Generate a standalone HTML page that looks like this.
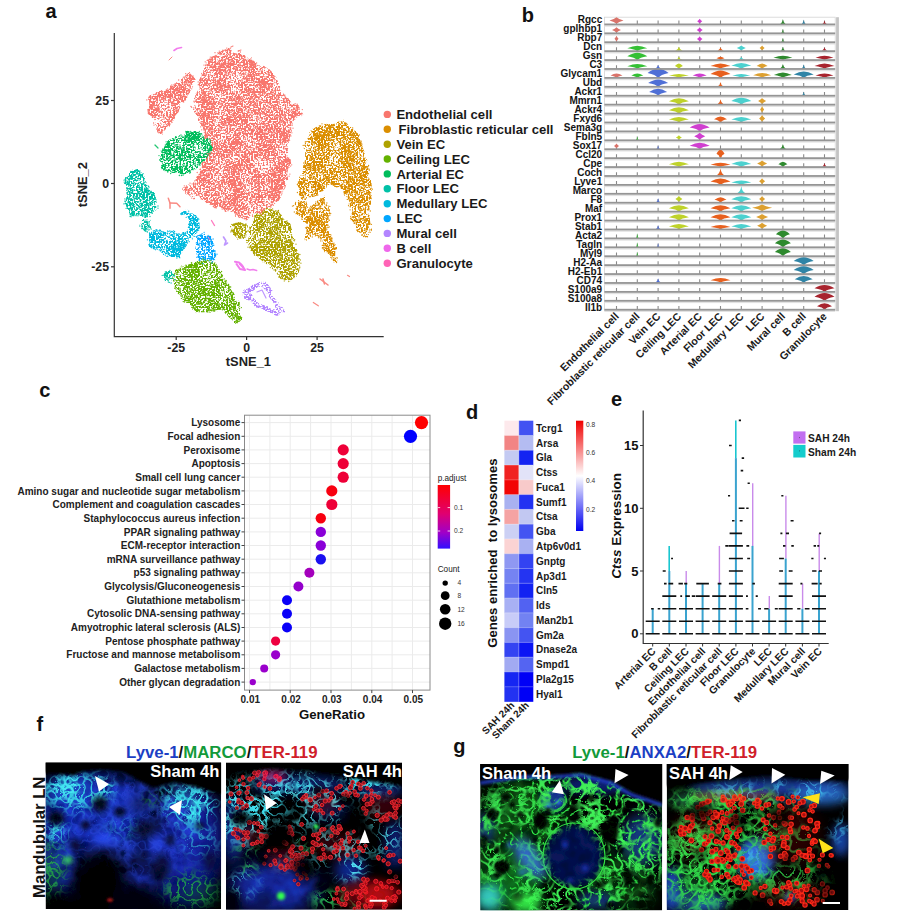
<!DOCTYPE html>
<html><head><meta charset="utf-8"><title>Figure</title>
<style>html,body{margin:0;padding:0;background:#fff;width:900px;height:919px;overflow:hidden}svg{display:block}</style>
</head><body>
<svg width="900" height="919" viewBox="0 0 900 919">
<defs><filter id="nA" x="0" y="0" width="1" height="1" color-interpolation-filters="sRGB"><feTurbulence type="turbulence" baseFrequency="0.13" numOctaves="1" seed="3" result="t"/><feColorMatrix in="t" type="matrix" values="0 0 0 0 0 0 0 0 0 0 0 0 0 0 0 -8 0 0 0 1.3" result="a"/><feComposite in="SourceGraphic" in2="a" operator="in" result="c"/><feGaussianBlur in="c" stdDeviation="0.45"/></filter>
<filter id="nB" x="0" y="0" width="1" height="1" color-interpolation-filters="sRGB"><feTurbulence type="turbulence" baseFrequency="0.11" numOctaves="1" seed="7" result="t"/><feColorMatrix in="t" type="matrix" values="0 0 0 0 0 0 0 0 0 0 0 0 0 0 0 -8 0 0 0 1.3" result="a"/><feComposite in="SourceGraphic" in2="a" operator="in" result="c"/><feGaussianBlur in="c" stdDeviation="0.45"/></filter>
<filter id="nC" x="0" y="0" width="1" height="1" color-interpolation-filters="sRGB"><feTurbulence type="turbulence" baseFrequency="0.15" numOctaves="1" seed="11" result="t"/><feColorMatrix in="t" type="matrix" values="0 0 0 0 0 0 0 0 0 0 0 0 0 0 0 -9 0 0 0 1.4" result="a"/><feComposite in="SourceGraphic" in2="a" operator="in" result="c"/><feGaussianBlur in="c" stdDeviation="0.45"/></filter>
<filter id="nD" x="0" y="0" width="1" height="1" color-interpolation-filters="sRGB"><feTurbulence type="turbulence" baseFrequency="0.1" numOctaves="1" seed="17" result="t"/><feColorMatrix in="t" type="matrix" values="0 0 0 0 0 0 0 0 0 0 0 0 0 0 0 -8 0 0 0 1.3" result="a"/><feComposite in="SourceGraphic" in2="a" operator="in" result="c"/><feGaussianBlur in="c" stdDeviation="0.45"/></filter>
<filter id="nE" x="0" y="0" width="1" height="1" color-interpolation-filters="sRGB"><feTurbulence type="turbulence" baseFrequency="0.14" numOctaves="1" seed="23" result="t"/><feColorMatrix in="t" type="matrix" values="0 0 0 0 0 0 0 0 0 0 0 0 0 0 0 -9 0 0 0 1.4" result="a"/><feComposite in="SourceGraphic" in2="a" operator="in" result="c"/><feGaussianBlur in="c" stdDeviation="0.45"/></filter>
<filter id="nF" x="0" y="0" width="1" height="1" color-interpolation-filters="sRGB"><feTurbulence type="turbulence" baseFrequency="0.12" numOctaves="1" seed="29" result="t"/><feColorMatrix in="t" type="matrix" values="0 0 0 0 0 0 0 0 0 0 0 0 0 0 0 -8 0 0 0 1.3" result="a"/><feComposite in="SourceGraphic" in2="a" operator="in" result="c"/><feGaussianBlur in="c" stdDeviation="0.45"/></filter>
<filter id="nG" x="0" y="0" width="1" height="1" color-interpolation-filters="sRGB"><feTurbulence type="turbulence" baseFrequency="0.09" numOctaves="2" seed="31" result="t"/><feColorMatrix in="t" type="matrix" values="0 0 0 0 0 0 0 0 0 0 0 0 0 0 0 -7 0 0 0 1.2" result="a"/><feComposite in="SourceGraphic" in2="a" operator="in" result="c"/><feGaussianBlur in="c" stdDeviation="0.45"/></filter>
<filter id="nH" x="0" y="0" width="1" height="1" color-interpolation-filters="sRGB"><feTurbulence type="turbulence" baseFrequency="0.16" numOctaves="1" seed="37" result="t"/><feColorMatrix in="t" type="matrix" values="0 0 0 0 0 0 0 0 0 0 0 0 0 0 0 -9 0 0 0 1.4" result="a"/><feComposite in="SourceGraphic" in2="a" operator="in" result="c"/><feGaussianBlur in="c" stdDeviation="0.45"/></filter>
<filter id="pA" x="0" y="0" width="1" height="1" color-interpolation-filters="sRGB"><feTurbulence type="turbulence" baseFrequency="0.14" numOctaves="1" seed="41" result="t"/><feColorMatrix in="t" type="matrix" values="0 0 0 0 0 0 0 0 0 0 0 0 0 0 0 -9 0 0 0 1.5" result="a"/><feTurbulence type="fractalNoise" baseFrequency="0.05" numOctaves="2" seed="43" result="lf"/><feColorMatrix in="lf" type="matrix" values="0 0 0 0 0 0 0 0 0 0 0 0 0 0 0 4 0 0 0 -1.4" result="pa"/><feComposite in="a" in2="pa" operator="arithmetic" k1="1" k2="0" k3="0" k4="0" result="am"/><feComposite in="SourceGraphic" in2="am" operator="in" result="c"/><feGaussianBlur in="c" stdDeviation="0.45"/></filter>
<filter id="pB" x="0" y="0" width="1" height="1" color-interpolation-filters="sRGB"><feTurbulence type="turbulence" baseFrequency="0.12" numOctaves="1" seed="47" result="t"/><feColorMatrix in="t" type="matrix" values="0 0 0 0 0 0 0 0 0 0 0 0 0 0 0 -9 0 0 0 1.5" result="a"/><feTurbulence type="fractalNoise" baseFrequency="0.045" numOctaves="2" seed="49" result="lf"/><feColorMatrix in="lf" type="matrix" values="0 0 0 0 0 0 0 0 0 0 0 0 0 0 0 4 0 0 0 -1.4" result="pa"/><feComposite in="a" in2="pa" operator="arithmetic" k1="1" k2="0" k3="0" k4="0" result="am"/><feComposite in="SourceGraphic" in2="am" operator="in" result="c"/><feGaussianBlur in="c" stdDeviation="0.45"/></filter>
<filter id="pC" x="0" y="0" width="1" height="1" color-interpolation-filters="sRGB"><feTurbulence type="turbulence" baseFrequency="0.15" numOctaves="1" seed="53" result="t"/><feColorMatrix in="t" type="matrix" values="0 0 0 0 0 0 0 0 0 0 0 0 0 0 0 -9 0 0 0 1.5" result="a"/><feTurbulence type="fractalNoise" baseFrequency="0.05" numOctaves="2" seed="55" result="lf"/><feColorMatrix in="lf" type="matrix" values="0 0 0 0 0 0 0 0 0 0 0 0 0 0 0 4.5 0 0 0 -1.6" result="pa"/><feComposite in="a" in2="pa" operator="arithmetic" k1="1" k2="0" k3="0" k4="0" result="am"/><feComposite in="SourceGraphic" in2="am" operator="in" result="c"/><feGaussianBlur in="c" stdDeviation="0.45"/></filter>
<filter id="pD" x="0" y="0" width="1" height="1" color-interpolation-filters="sRGB"><feTurbulence type="turbulence" baseFrequency="0.1" numOctaves="1" seed="59" result="t"/><feColorMatrix in="t" type="matrix" values="0 0 0 0 0 0 0 0 0 0 0 0 0 0 0 -8 0 0 0 1.4" result="a"/><feTurbulence type="fractalNoise" baseFrequency="0.04" numOctaves="2" seed="61" result="lf"/><feColorMatrix in="lf" type="matrix" values="0 0 0 0 0 0 0 0 0 0 0 0 0 0 0 4 0 0 0 -1.3" result="pa"/><feComposite in="a" in2="pa" operator="arithmetic" k1="1" k2="0" k3="0" k4="0" result="am"/><feComposite in="SourceGraphic" in2="am" operator="in" result="c"/><feGaussianBlur in="c" stdDeviation="0.45"/></filter>
<filter id="mot" x="0" y="0" width="1" height="1" color-interpolation-filters="sRGB"><feTurbulence type="fractalNoise" baseFrequency="0.08" numOctaves="2" seed="5" result="t"/><feColorMatrix in="t" type="matrix" values="0 0 0 0 0 0 0 0 0 0 0 0 0 0 0 2.2 0 0 0 -0.6" result="a"/><feComposite in="SourceGraphic" in2="a" operator="in"/></filter>
<filter id="soft" x="0" y="0" width="1" height="1"><feGaussianBlur stdDeviation="0.5"/></filter>
<filter id="g0_6" x="-60%" y="-60%" width="220%" height="220%"><feGaussianBlur stdDeviation="0.6"/></filter>
<filter id="g1" x="-60%" y="-60%" width="220%" height="220%"><feGaussianBlur stdDeviation="1"/></filter>
<filter id="g1_5" x="-60%" y="-60%" width="220%" height="220%"><feGaussianBlur stdDeviation="1.5"/></filter>
<filter id="g2" x="-60%" y="-60%" width="220%" height="220%"><feGaussianBlur stdDeviation="2"/></filter>
<filter id="g3" x="-60%" y="-60%" width="220%" height="220%"><feGaussianBlur stdDeviation="3"/></filter>
<filter id="g4" x="-60%" y="-60%" width="220%" height="220%"><feGaussianBlur stdDeviation="4"/></filter>
<filter id="g5" x="-60%" y="-60%" width="220%" height="220%"><feGaussianBlur stdDeviation="5"/></filter>
<filter id="g6" x="-60%" y="-60%" width="220%" height="220%"><feGaussianBlur stdDeviation="6"/></filter>
<filter id="g7" x="-60%" y="-60%" width="220%" height="220%"><feGaussianBlur stdDeviation="7"/></filter>
<filter id="g8" x="-60%" y="-60%" width="220%" height="220%"><feGaussianBlur stdDeviation="8"/></filter>
<filter id="g10" x="-60%" y="-60%" width="220%" height="220%"><feGaussianBlur stdDeviation="10"/></filter>
<filter id="g12" x="-60%" y="-60%" width="220%" height="220%"><feGaussianBlur stdDeviation="12"/></filter>
<filter id="g14" x="-60%" y="-60%" width="220%" height="220%"><feGaussianBlur stdDeviation="14"/></filter>
<filter id="speck" x="110" y="30" width="280" height="300" filterUnits="userSpaceOnUse" color-interpolation-filters="sRGB">
<feTurbulence type="fractalNoise" baseFrequency="0.12" numOctaves="2" seed="8" result="dn"/>
<feDisplacementMap in="SourceGraphic" in2="dn" scale="7" xChannelSelector="R" yChannelSelector="G" result="disp"/>
<feTurbulence type="fractalNoise" baseFrequency="0.6" numOctaves="1" seed="4" result="t"/>
<feColorMatrix in="t" type="matrix" values="0 0 0 0 0 0 0 0 0 0 0 0 0 0 0 1 0 0 0 0" result="a1"/>
<feTurbulence type="fractalNoise" baseFrequency="0.07" numOctaves="2" seed="9" result="t2"/>
<feColorMatrix in="t2" type="matrix" values="0 0 0 0 0 0 0 0 0 0 0 0 0 0 0 1 0 0 0 0" result="a2"/>
<feComposite in="a1" in2="a2" operator="arithmetic" k1="0" k2="1" k3="0.3" k4="-0.15" result="a3"/>
<feComponentTransfer in="a3" result="a"><feFuncA type="linear" slope="8" intercept="-3.15"/></feComponentTransfer>
<feComposite in="disp" in2="a" operator="in" result="sp"/>
<feGaussianBlur in="sp" stdDeviation="0.35"/>
</filter></defs>
<rect width="900" height="919" fill="#fff"/>
<g filter="url(#speck)">
<path d="M210.3,58.6 218.6,52.4 226.9,50.3 237.2,52.4 247.5,58.6 255.8,64.8 266.2,69.0 274.4,77.2 278.6,87.6 284.8,100.0 297.2,106.2 301.3,112.4 293.0,120.7 288.9,133.0 284.8,147.5 288.9,164.1 284.8,184.8 276.5,199.3 264.1,211.7 253.3,213.3 245.0,218.3 238.3,215.0 229.0,209.6 214.5,205.5 202.0,197.2 189.6,195.1 183.4,188.9 195.8,182.7 202.0,168.2 210.3,151.7 206.2,137.2 202.0,122.7 193.8,106.2 197.9,91.7 202.0,77.2 208.3,60.7Z" fill="#F8766D" stroke="#F8766D" stroke-width="2.5" stroke-linejoin="round"/>
<path d="M149.2,100.0 153.3,95.0 165.0,91.7 176.7,85.0 188.3,73.3 193.3,78.3 188.3,93.3 180.0,103.3 173.3,116.7 166.7,126.7 160.0,133.3 156.7,125.0 155.0,118.3 150.0,113.3Z" fill="#F8766D" stroke="#F8766D" stroke-width="2.5" stroke-linejoin="round"/>
<path d="M160.0,156.7 165.0,145.0 176.7,138.3 186.7,133.3 198.3,133.3 208.3,140.0 210.0,150.0 203.3,161.7 193.3,168.3 183.3,173.3 171.7,171.7 163.3,166.7Z" fill="#00BD5C" stroke="#00BD5C" stroke-width="2.5" stroke-linejoin="round"/>
<path d="M326.2,124.4 343.6,122.7 357.6,134.9 364.5,159.2 369.7,187.1 368.0,211.4 369.7,228.8 364.5,235.8 357.6,228.8 352.0,215.0 350.6,201.0 343.6,187.1 329.7,183.6 315.8,194.0 301.9,197.5 296.7,187.1 303.0,173.0 305.4,160.0 305.4,145.3 312.3,131.4Z" fill="#DB8E00" stroke="#DB8E00" stroke-width="2.5" stroke-linejoin="round"/>
<path d="M295.0,205.0 303.3,201.7 305.0,208.0 310.0,209.0 316.7,203.3 323.3,199.0 328.3,208.0 326.7,223.3 330.0,238.3 335.0,250.0 335.0,260.0 330.0,253.3 325.0,250.0 321.7,236.7 313.3,233.3 306.7,238.3 306.7,230.0 310.0,223.3 305.0,218.3 297.0,213.0Z" fill="#DB8E00" stroke="#DB8E00" stroke-width="2.5" stroke-linejoin="round"/>
<path d="M248.3,240.0 250.0,230.0 256.7,216.7 266.7,210.0 278.3,213.3 288.3,225.0 293.3,243.3 298.3,256.7 298.3,270.0 290.0,280.0 283.3,278.3 276.7,270.0 268.3,263.3 260.0,256.7 251.7,250.0Z" fill="#AEA200" stroke="#AEA200" stroke-width="2.5" stroke-linejoin="round"/>
<path d="M233.3,225.0 240.0,223.3 246.7,226.7 245.0,235.0 238.3,236.7 233.3,231.7Z" fill="#AEA200" stroke="#AEA200" stroke-width="2.5" stroke-linejoin="round"/>
<path d="M126.7,180.0 133.3,171.7 138.3,170.0 143.3,180.0 148.3,190.0 155.0,200.0 155.0,210.0 148.3,215.0 138.3,215.0 130.0,215.0 126.7,203.3 128.3,191.7Z" fill="#00C1A7" stroke="#00C1A7" stroke-width="2.5" stroke-linejoin="round"/>
<path d="M141.7,220.0 148.3,221.7 150.0,228.3 145.0,230.0 141.7,225.0Z" fill="#00C1A7" stroke="#00C1A7" stroke-width="2.5" stroke-linejoin="round"/>
<path d="M165.0,274.0 170.0,273.3 173.3,278.0 170.0,281.7 166.0,280.0Z" fill="#00C1A7" stroke="#00C1A7" stroke-width="2.5" stroke-linejoin="round"/>
<path d="M150.0,233.3 160.0,231.7 173.3,233.3 181.7,236.7 183.3,233.3 188.3,230.0 192.0,223.3 189.0,217.0 183.3,213.3 188.3,211.7 195.0,216.7 198.3,225.0 195.0,233.3 188.0,240.0 183.0,248.0 178.0,256.0 170.0,255.0 160.0,250.0 151.7,245.0 149.0,238.3Z" fill="#00BADE" stroke="#00BADE" stroke-width="2.5" stroke-linejoin="round"/>
<path d="M198.3,236.7 205.0,235.0 210.0,238.3 211.7,246.7 215.0,256.7 210.0,261.7 200.0,260.0 196.7,253.3 198.3,245.0Z" fill="#00A6FF" stroke="#00A6FF" stroke-width="2.5" stroke-linejoin="round"/>
<path d="M173.3,276.7 181.7,268.3 193.3,263.3 203.3,261.7 213.3,263.3 220.0,273.3 226.7,283.3 231.7,293.3 236.7,303.3 240.0,311.7 239.0,318.0 236.0,322.0 232.0,318.0 230.0,316.7 226.7,310.0 220.0,308.3 210.0,310.0 198.3,310.0 190.0,305.0 183.3,298.3 178.3,290.0 175.0,283.3Z" fill="#64B200" stroke="#64B200" stroke-width="2.5" stroke-linejoin="round"/>
<path d="M246.7,291.7 253.3,286.7 263.3,283.3 268.3,290.0 273.3,300.0 281.7,310.0 276.7,313.3 265.0,308.3 256.7,305.0 250.0,298.3 246.7,291.7" fill="none" stroke="#B385FF" stroke-width="5" stroke-linecap="round" stroke-linejoin="round"/>
</g>
<g opacity="0.85">
<path d="M174.0,50.5 177.0,48.5 181.5,47.5" fill="none" stroke="#EF67EB" stroke-width="1.65" stroke-linecap="round" stroke-linejoin="round"/>
<path d="M257.0,292.0 262.0,290.0 266.0,298.0" fill="none" stroke="#B385FF" stroke-width="1.20" stroke-linecap="round" stroke-linejoin="round"/>
<path d="M223.5,237.0 226.0,241.0 224.5,245.0 227.5,243.0" fill="none" stroke="#B385FF" stroke-width="1.65" stroke-linecap="round" stroke-linejoin="round"/>
<path d="M235.0,261.7 239.0,262.5 241.7,265.0 245.0,270.0 240.0,269.0 236.5,264.0" fill="none" stroke="#EF67EB" stroke-width="2.10" stroke-linecap="round" stroke-linejoin="round"/>
<path d="M247.0,269.0 250.0,270.0 253.0,269.5 256.7,270.5" fill="none" stroke="#EF67EB" stroke-width="1.35" stroke-linecap="round" stroke-linejoin="round"/>
<path d="M240.0,264.0 243.0,267.0" fill="none" stroke="#EF67EB" stroke-width="2.25" stroke-linecap="round" stroke-linejoin="round"/>
<path d="M211.5,220.5 214.5,225.5" fill="none" stroke="#FF63B6" stroke-width="1.35" stroke-linecap="round" stroke-linejoin="round"/>
<path d="M168.3,198.3 170.0,203.0 170.0,208.3" fill="none" stroke="#F8766D" stroke-width="1.50" stroke-linecap="round" stroke-linejoin="round"/>
<path d="M170.0,203.0 176.7,203.3 180.0,206.7" fill="none" stroke="#F8766D" stroke-width="1.50" stroke-linecap="round" stroke-linejoin="round"/>
<path d="M320.0,279.0 324.0,282.0 328.0,285.0" fill="none" stroke="#F8766D" stroke-width="1.50" stroke-linecap="round" stroke-linejoin="round"/>
<path d="M323.0,279.0 324.5,284.0" fill="none" stroke="#F8766D" stroke-width="1.50" stroke-linecap="round" stroke-linejoin="round"/>
<path d="M313.3,302.5 318.3,305.8" fill="none" stroke="#F8766D" stroke-width="1.20" stroke-linecap="round" stroke-linejoin="round"/>
<path d="M347.5,275.3 349.5,276.5" fill="none" stroke="#F8766D" stroke-width="1.20" stroke-linecap="round" stroke-linejoin="round"/>
<path d="M231.0,47.0 233.0,46.0" fill="none" stroke="#F8766D" stroke-width="1.12" stroke-linecap="round" stroke-linejoin="round"/>
<path d="M238.0,51.0 241.0,50.0" fill="none" stroke="#F8766D" stroke-width="1.12" stroke-linecap="round" stroke-linejoin="round"/>
<path d="M169.0,60.0 172.0,57.0" fill="none" stroke="#F8766D" stroke-width="0.98" stroke-linecap="round" stroke-linejoin="round"/>
<path d="M208.0,237.0 210.0,240.0" fill="none" stroke="#FF63B6" stroke-width="1.05" stroke-linecap="round" stroke-linejoin="round"/>
<path d="M155.0,145.0 158.0,148.0" fill="none" stroke="#00BD5C" stroke-width="1.20" stroke-linecap="round" stroke-linejoin="round"/>
<path d="M236.0,315.0 238.0,318.0" fill="none" stroke="#64B200" stroke-width="2.25" stroke-linecap="round" stroke-linejoin="round"/>
</g>
<path d="M214.6 207.6h0M279.8 197.6h0M190.9 106.3h0M222.2 209.0h0M277.9 199.0h0M288.9 167.4h0M256.6 63.0h0M252.5 215.0h0M301.8 113.1h0M187.7 193.5h0M260.7 213.9h0M269.1 70.0h0M216.2 207.9h0M289.8 130.9h0M291.4 131.0h0M225.9 211.4h0M208.4 60.1h0M264.0 211.8h0M270.8 207.0h0M194.0 101.2h0M210.3 57.1h0M261.9 214.3h0M194.3 102.1h0M226.8 48.1h0M219.3 51.1h0M205.7 137.2h0M228.0 210.7h0M244.5 55.7h0M243.3 55.6h0M274.6 203.3h0M200.7 126.8h0M252.6 216.3h0M222.9 50.1h0M293.0 128.2h0M199.0 84.4h0M205.2 61.8h0M285.7 148.8h0M248.8 217.5h0M295.1 103.6h0M199.9 169.3h0M194.8 180.8h0M230.9 50.9h0M254.2 62.9h0M264.7 68.0h0M191.5 107.2h0M191.8 198.1h0M285.9 146.6h0M201.5 124.8h0M201.7 129.8h0M296.7 117.1h0M183.9 190.3h0M215.0 52.7h0M292.1 124.1h0M208.4 154.4h0M190.0 183.1h0M278.8 197.7h0M289.4 102.1h0M230.4 48.1h0M202.2 124.7h0M196.0 180.0h0M297.1 104.1h0M290.6 166.1h0M207.1 153.6h0M198.2 81.9h0M193.7 198.7h0M225.2 211.0h0M290.8 128.0h0M197.5 177.4h0M289.9 174.1h0M278.8 87.3h0M238.4 215.7h0M287.6 157.3h0M291.9 132.8h0M287.2 150.0h0M204.3 132.6h0M282.0 193.1h0M230.4 50.6h0M288.8 158.1h0M240.4 52.0h0M281.6 194.8h0M238.7 51.0h0M290.9 135.9h0M289.6 140.2h0M197.2 172.5h0M204.4 138.2h0M273.4 205.2h0M289.9 101.9h0M279.7 195.6h0M223.5 51.0h0M202.1 123.2h0M289.5 135.1h0M203.7 128.5h0M247.9 217.5h0M198.2 84.8h0M204.0 65.1h0M205.5 201.6h0M184.3 185.8h0M294.7 119.2h0M280.6 192.7h0M208.9 153.2h0M194.4 198.5h0M192.1 183.9h0M302.3 109.6h0M235.5 214.1h0M194.6 98.5h0M289.1 176.2h0M205.5 136.1h0M291.7 164.8h0M178.7 80.0h0M177.8 110.1h0M146.8 99.9h0M160.7 133.2h0M150.6 95.8h0M176.9 83.5h0M173.1 85.1h0M157.6 128.2h0M148.4 109.4h0M182.3 101.6h0M154.0 125.1h0M174.5 84.1h0M185.7 73.7h0M149.5 113.0h0M175.1 114.7h0M188.8 92.8h0M176.6 111.7h0M157.9 132.1h0M152.4 116.3h0M183.4 77.2h0M193.8 79.5h0M148.6 112.8h0M158.3 129.3h0M157.7 131.5h0M156.2 93.6h0M193.0 76.0h0M192.5 86.8h0M182.6 78.8h0M156.5 92.7h0M164.7 129.6h0M162.6 91.3h0M153.6 123.0h0M171.1 121.3h0M148.6 97.8h0M148.8 113.9h0M183.7 102.1h0M167.5 88.8h0M191.7 88.8h0M152.3 117.1h0M183.4 101.5h0M154.9 119.5h0M161.4 90.6h0" stroke="#F8766D" stroke-width="1.3" stroke-linecap="round"/>
<path d="M189.7 173.0h0M181.0 135.0h0M197.1 132.5h0M208.1 154.6h0M165.0 169.6h0M161.8 165.7h0M185.8 131.3h0M187.6 131.4h0M210.0 153.6h0M186.7 131.7h0M207.9 155.2h0M172.5 138.7h0M159.0 155.6h0M189.9 170.9h0M201.1 133.7h0M199.3 131.3h0M190.7 131.3h0M179.7 136.0h0M201.7 134.0h0M190.9 132.2h0M193.0 169.3h0M181.4 175.5h0M175.2 138.8h0M170.7 173.5h0M200.0 165.0h0M168.0 171.2h0M168.7 141.4h0M159.7 160.0h0M167.8 172.1h0M209.2 152.1h0M183.0 175.3h0M166.1 141.8h0M179.3 175.5h0M190.5 172.6h0M162.2 166.4h0M199.0 164.9h0" stroke="#00BD5C" stroke-width="1.3" stroke-linecap="round"/>
<path d="M350.1 206.8h0M320.6 190.6h0M369.4 193.6h0M344.1 191.6h0M321.9 190.9h0M352.7 220.3h0M369.3 170.2h0M368.1 166.3h0M371.3 198.2h0M297.4 192.5h0M368.6 165.4h0M341.0 187.8h0M322.0 123.8h0M349.6 201.2h0M344.5 193.2h0M303.1 145.3h0M345.9 123.1h0M367.4 167.9h0M317.1 193.6h0M359.4 134.9h0M345.5 193.0h0M361.6 145.5h0M371.5 224.3h0M317.8 195.0h0M369.8 223.6h0M346.7 123.8h0M368.8 209.7h0M305.3 141.9h0M365.4 236.5h0M352.7 127.9h0M363.7 236.5h0M312.3 196.0h0M371.1 195.7h0M370.3 211.0h0M347.3 199.4h0M354.9 222.2h0M308.1 138.4h0M332.1 184.2h0M357.8 231.6h0M305.4 198.9h0M350.1 209.8h0M369.4 223.6h0M368.3 209.2h0M365.8 236.7h0M304.3 145.3h0M371.5 229.1h0M309.2 196.8h0M368.9 202.6h0M348.5 205.7h0M303.8 163.0h0M370.7 192.7h0M369.0 169.2h0M337.6 186.7h0M370.1 232.3h0M313.6 196.2h0M368.5 173.7h0M350.2 200.5h0M362.0 144.1h0M360.9 140.9h0M306.3 141.6h0M330.8 255.1h0M331.8 239.3h0M320.8 240.9h0M329.2 226.9h0M334.0 243.1h0M326.9 203.0h0M331.8 258.8h0M327.7 219.1h0M307.0 206.8h0M329.8 206.4h0M336.0 247.8h0M333.6 259.3h0M306.2 202.2h0M322.3 248.0h0M305.1 206.7h0M335.0 244.7h0M301.8 219.1h0M318.5 237.2h0M305.5 227.8h0M337.3 258.0h0M330.7 213.5h0M313.9 234.4h0M323.8 247.5h0M336.9 257.7h0M310.8 208.2h0M293.6 205.7h0M321.0 239.0h0M298.6 200.7h0M329.3 220.1h0M332.1 238.2h0M330.9 257.4h0M327.9 221.6h0M317.9 200.8h0M321.3 238.6h0M335.3 248.0h0M330.7 234.7h0M318.0 235.7h0M323.3 248.9h0M309.4 238.3h0M330.1 236.9h0M316.9 235.4h0M303.9 202.0h0M312.3 236.9h0M295.6 202.3h0M300.4 202.0h0M304.9 218.6h0M301.9 202.2h0M309.4 238.3h0M333.5 260.5h0M292.4 206.1h0M329.3 220.4h0M294.3 212.0h0M327.9 217.6h0M329.8 215.2h0M318.8 235.8h0M328.0 227.5h0M331.4 240.9h0M315.5 234.2h0M305.1 206.9h0M320.5 200.6h0" stroke="#DB8E00" stroke-width="1.3" stroke-linecap="round"/>
<path d="M260.6 214.0h0M298.3 255.6h0M246.5 240.4h0M253.9 221.6h0M272.5 268.3h0M280.0 276.9h0M278.5 212.4h0M298.6 262.1h0M299.3 262.0h0M296.0 244.2h0M255.2 216.0h0M247.0 242.5h0M298.4 254.3h0M262.9 211.3h0M286.2 279.4h0M278.2 211.8h0M299.9 267.1h0M248.0 247.2h0M278.5 210.5h0M257.9 255.1h0M274.0 269.9h0M298.4 256.9h0M299.9 254.5h0M286.9 223.3h0M290.1 224.3h0M288.8 281.5h0M300.9 263.2h0M249.9 227.2h0M275.9 270.2h0M270.3 267.6h0M294.3 240.8h0M262.6 212.6h0M277.1 211.2h0M271.8 266.2h0M294.7 239.7h0M250.0 227.9h0M275.4 270.3h0M255.1 253.3h0M272.6 208.9h0M284.3 280.9h0M299.6 267.9h0M250.0 247.5h0M257.2 213.7h0M298.6 254.6h0M287.0 220.9h0M245.9 223.9h0M240.9 238.0h0M240.5 236.8h0M239.7 237.6h0M232.1 231.4h0M243.1 235.7h0M231.3 230.4h0M241.4 223.3h0M246.2 225.1h0M232.0 229.2h0M230.6 226.7h0M247.9 231.0h0M233.1 230.5h0M246.5 231.5h0M245.9 234.9h0M237.7 239.1h0M230.8 231.9h0M243.5 224.8h0" stroke="#AEA200" stroke-width="1.3" stroke-linecap="round"/>
<path d="M124.1 180.2h0M148.5 186.7h0M127.1 193.5h0M134.9 215.0h0M155.8 199.5h0M130.1 216.5h0M142.4 174.7h0M126.1 208.3h0M132.5 215.1h0M149.1 187.1h0M124.9 198.9h0M125.6 201.8h0M142.7 176.9h0M124.8 201.2h0M127.7 192.1h0M139.5 171.9h0M145.4 215.0h0M158.0 208.2h0M151.9 195.1h0M158.0 206.0h0M143.1 173.7h0M144.8 215.0h0M125.5 203.4h0M153.5 195.0h0M142.8 216.4h0M124.6 183.3h0M128.5 176.4h0M138.0 215.8h0M150.0 216.5h0M131.1 216.0h0M136.1 215.7h0M139.9 170.9h0M124.2 182.1h0M156.4 202.1h0M152.2 213.4h0M127.0 188.5h0M145.3 231.3h0M141.9 226.5h0M141.8 228.5h0M151.1 228.9h0M148.9 229.9h0M142.9 228.6h0M149.8 227.1h0M149.3 221.7h0M147.0 229.5h0M139.8 226.0h0M145.7 230.5h0M147.0 231.5h0M147.0 219.8h0M147.3 232.0h0M145.1 220.2h0M168.3 281.9h0M171.1 283.0h0M170.0 272.4h0M162.2 275.4h0M174.7 276.1h0M165.5 272.0h0M166.4 271.9h0M169.3 282.4h0M169.9 270.4h0M172.7 276.8h0M164.7 276.9h0M173.9 275.5h0M173.6 274.7h0M163.7 275.2h0M174.6 279.7h0" stroke="#00C1A7" stroke-width="1.3" stroke-linecap="round"/>
<path d="M153.3 230.8h0M197.5 228.1h0M163.2 231.8h0M157.8 231.2h0M167.7 230.9h0M162.5 251.4h0M174.5 233.1h0M188.6 224.3h0M194.8 236.4h0M161.8 231.5h0M197.2 230.6h0M189.4 219.0h0M182.2 213.7h0M189.2 241.7h0M190.2 222.0h0M176.9 258.0h0M191.5 222.9h0M156.8 248.8h0M198.8 219.2h0M159.6 230.9h0M170.7 255.4h0M183.4 248.6h0M196.8 232.0h0M153.8 248.5h0M159.3 249.8h0M167.0 256.4h0M159.8 230.0h0M181.6 250.4h0M174.6 231.5h0M192.4 238.8h0M167.8 256.1h0M185.1 245.0h0M160.5 230.5h0M156.1 229.7h0M156.1 247.8h0M156.9 229.9h0M167.9 231.5h0M147.4 239.8h0M198.6 230.2h0M171.7 255.7h0M199.1 223.2h0M181.8 213.0h0M190.3 223.6h0M170.0 231.5h0M197.6 218.7h0M186.6 212.1h0M154.5 230.6h0M184.6 245.7h0M188.7 211.2h0M189.4 223.2h0M173.4 230.8h0M156.1 230.5h0M180.9 234.7h0M187.3 242.9h0M165.3 255.1h0M188.5 217.6h0M177.5 255.9h0M154.6 248.1h0M186.2 217.3h0M151.1 246.5h0" stroke="#00BADE" stroke-width="1.3" stroke-linecap="round"/>
<path d="M202.9 263.5h0M213.1 239.0h0M211.4 263.1h0M214.9 250.7h0M196.7 242.7h0M213.5 251.5h0M204.1 232.3h0M196.9 257.4h0M212.3 246.2h0M204.4 234.4h0M196.3 242.9h0M212.4 261.9h0M217.0 254.2h0M200.0 260.3h0M215.1 251.2h0M213.1 245.4h0M199.1 259.8h0M200.3 234.8h0M197.1 237.1h0M214.6 257.5h0M214.5 250.8h0M212.8 243.4h0M208.1 235.5h0M211.5 239.9h0M213.8 245.2h0M202.1 233.7h0M197.9 243.2h0" stroke="#00A6FF" stroke-width="1.3" stroke-linecap="round"/>
<path d="M179.1 292.7h0M213.2 311.0h0M213.9 309.8h0M239.6 306.1h0M198.0 262.5h0M181.7 295.9h0M231.5 292.5h0M186.3 265.5h0M210.0 312.3h0M182.0 266.8h0M207.7 260.5h0M183.5 299.3h0M219.1 269.6h0M191.4 262.7h0M214.7 311.0h0M233.3 294.2h0M173.3 278.6h0M174.6 288.2h0M206.2 261.0h0M180.7 295.8h0M216.2 267.1h0M176.6 291.3h0M228.8 287.2h0M217.2 266.1h0M210.8 260.7h0M204.6 259.9h0M175.9 288.9h0M172.7 278.1h0M237.9 320.6h0M197.3 311.1h0M224.3 278.8h0M212.1 309.8h0M239.6 308.4h0M202.7 259.0h0M219.1 309.3h0M214.4 311.0h0M241.4 307.6h0M230.0 286.9h0M174.7 273.7h0M233.5 293.5h0M230.7 287.0h0M225.9 280.4h0M186.9 302.4h0M221.6 271.5h0M178.4 293.5h0M181.4 298.4h0M176.2 273.2h0M239.2 302.5h0M175.5 285.9h0M210.7 262.9h0M232.9 292.6h0M239.9 320.6h0M195.1 308.4h0M174.4 274.2h0M185.9 265.2h0M241.6 317.4h0M191.8 307.4h0M182.1 296.4h0M226.3 280.7h0M194.3 307.8h0M230.3 289.9h0M178.2 271.5h0M184.7 301.8h0M233.5 293.9h0M239.0 304.0h0M233.4 293.1h0" stroke="#64B200" stroke-width="1.3" stroke-linecap="round"/>
<g stroke="#333" stroke-width="1.2" fill="none">
<path d="M114.3 33V336.7H383.7"/>
<path d="M111 100.5H114.3"/>
<path d="M111 183.5H114.3"/>
<path d="M111 266.8H114.3"/>
<path d="M176.2 336.7V340"/>
<path d="M246.6 336.7V340"/>
<path d="M317.1 336.7V340"/>
</g>
<g font-family="Liberation Sans, Arial, sans-serif" font-weight="bold" font-size="12.3" fill="#222" text-anchor="end">
<text x="109" y="104.9">25</text>
<text x="109" y="187.9">0</text>
<text x="109" y="271.2">-25</text>
</g>
<g font-family="Liberation Sans, Arial, sans-serif" font-weight="bold" font-size="12.3" fill="#222" text-anchor="middle">
<text x="176.2" y="351.8">-25</text>
<text x="246.6" y="351.8">0</text>
<text x="317.1" y="351.8">25</text>
</g>
<text font-family="Liberation Sans, Arial, sans-serif" font-weight="bold" font-size="12.9" fill="#222" text-anchor="middle" x="248.4" y="366.2">tSNE_1</text>
<text font-family="Liberation Sans, Arial, sans-serif" font-weight="bold" font-size="12.9" fill="#222" text-anchor="middle" transform="translate(87.3 184.7) rotate(-90)">tSNE_2</text>
<circle cx="387.3" cy="114.4" r="3.7" fill="#F8766D"/>
<text font-family="Liberation Sans, Arial, sans-serif" font-weight="bold" font-size="13.1" fill="#1a1a1a" x="396.4" y="119.0">Endothelial cell</text>
<circle cx="387.3" cy="129.3" r="3.7" fill="#DB8E00"/>
<text font-family="Liberation Sans, Arial, sans-serif" font-weight="bold" font-size="13.1" fill="#1a1a1a" x="398.5" y="133.9">Fibroblastic reticular cell</text>
<circle cx="387.3" cy="144.2" r="3.7" fill="#AEA200"/>
<text font-family="Liberation Sans, Arial, sans-serif" font-weight="bold" font-size="13.1" fill="#1a1a1a" x="396.4" y="148.8">Vein EC</text>
<circle cx="387.3" cy="159.0" r="3.7" fill="#64B200"/>
<text font-family="Liberation Sans, Arial, sans-serif" font-weight="bold" font-size="13.1" fill="#1a1a1a" x="396.4" y="163.6">Ceiling LEC</text>
<circle cx="387.3" cy="173.9" r="3.7" fill="#00BD5C"/>
<text font-family="Liberation Sans, Arial, sans-serif" font-weight="bold" font-size="13.1" fill="#1a1a1a" x="396.4" y="178.5">Arterial EC</text>
<circle cx="387.3" cy="188.8" r="3.7" fill="#00C1A7"/>
<text font-family="Liberation Sans, Arial, sans-serif" font-weight="bold" font-size="13.1" fill="#1a1a1a" x="396.4" y="193.4">Floor LEC</text>
<circle cx="387.3" cy="203.7" r="3.7" fill="#00BADE"/>
<text font-family="Liberation Sans, Arial, sans-serif" font-weight="bold" font-size="13.1" fill="#1a1a1a" x="396.4" y="208.3">Medullary LEC</text>
<circle cx="387.3" cy="218.6" r="3.7" fill="#00A6FF"/>
<text font-family="Liberation Sans, Arial, sans-serif" font-weight="bold" font-size="13.1" fill="#1a1a1a" x="396.4" y="223.2">LEC</text>
<circle cx="387.3" cy="233.4" r="3.7" fill="#B385FF"/>
<text font-family="Liberation Sans, Arial, sans-serif" font-weight="bold" font-size="13.1" fill="#1a1a1a" x="396.4" y="238.0">Mural cell</text>
<circle cx="387.3" cy="248.3" r="3.7" fill="#EF67EB"/>
<text font-family="Liberation Sans, Arial, sans-serif" font-weight="bold" font-size="13.1" fill="#1a1a1a" x="396.4" y="252.9">B cell</text>
<circle cx="387.3" cy="263.2" r="3.7" fill="#FF63B6"/>
<text font-family="Liberation Sans, Arial, sans-serif" font-weight="bold" font-size="13.1" fill="#1a1a1a" x="396.4" y="267.8">Granulocyte</text>
<text font-family="Liberation Sans, Arial, sans-serif" font-weight="bold" font-size="20" fill="#111" x="45.4" y="18.3">a</text>
<rect x="604.4" y="17.2" width="230.80000000000007" height="293.512" fill="#fff" stroke="#d4d4d4" stroke-width="0.8"/>
<rect x="836.1" y="17.2" width="2.8" height="294.012" fill="#c4c4c4"/>
<rect x="604.4" y="25.20" width="230.80000000000007" height="1.5" fill="#e2e2e2"/>
<rect x="604.4" y="34.12" width="230.80000000000007" height="1.5" fill="#e2e2e2"/>
<rect x="604.4" y="43.03" width="230.80000000000007" height="1.5" fill="#e2e2e2"/>
<rect x="604.4" y="51.95" width="230.80000000000007" height="1.5" fill="#e2e2e2"/>
<rect x="604.4" y="60.86" width="230.80000000000007" height="1.5" fill="#e2e2e2"/>
<rect x="604.4" y="69.78" width="230.80000000000007" height="1.5" fill="#e2e2e2"/>
<rect x="604.4" y="78.70" width="230.80000000000007" height="1.5" fill="#e2e2e2"/>
<rect x="604.4" y="87.61" width="230.80000000000007" height="1.5" fill="#e2e2e2"/>
<rect x="604.4" y="96.53" width="230.80000000000007" height="1.5" fill="#e2e2e2"/>
<rect x="604.4" y="105.44" width="230.80000000000007" height="1.5" fill="#e2e2e2"/>
<rect x="604.4" y="114.36" width="230.80000000000007" height="1.5" fill="#e2e2e2"/>
<rect x="604.4" y="123.28" width="230.80000000000007" height="1.5" fill="#e2e2e2"/>
<rect x="604.4" y="132.19" width="230.80000000000007" height="1.5" fill="#e2e2e2"/>
<rect x="604.4" y="141.11" width="230.80000000000007" height="1.5" fill="#e2e2e2"/>
<rect x="604.4" y="150.02" width="230.80000000000007" height="1.5" fill="#e2e2e2"/>
<rect x="604.4" y="158.94" width="230.80000000000007" height="1.5" fill="#e2e2e2"/>
<rect x="604.4" y="167.86" width="230.80000000000007" height="1.5" fill="#e2e2e2"/>
<rect x="604.4" y="176.77" width="230.80000000000007" height="1.5" fill="#e2e2e2"/>
<rect x="604.4" y="185.69" width="230.80000000000007" height="1.5" fill="#e2e2e2"/>
<rect x="604.4" y="194.60" width="230.80000000000007" height="1.5" fill="#e2e2e2"/>
<rect x="604.4" y="203.52" width="230.80000000000007" height="1.5" fill="#e2e2e2"/>
<rect x="604.4" y="212.44" width="230.80000000000007" height="1.5" fill="#e2e2e2"/>
<rect x="604.4" y="221.35" width="230.80000000000007" height="1.5" fill="#e2e2e2"/>
<rect x="604.4" y="230.27" width="230.80000000000007" height="1.5" fill="#e2e2e2"/>
<rect x="604.4" y="239.18" width="230.80000000000007" height="1.5" fill="#e2e2e2"/>
<rect x="604.4" y="248.10" width="230.80000000000007" height="1.5" fill="#e2e2e2"/>
<rect x="604.4" y="257.02" width="230.80000000000007" height="1.5" fill="#e2e2e2"/>
<rect x="604.4" y="265.93" width="230.80000000000007" height="1.5" fill="#e2e2e2"/>
<rect x="604.4" y="274.85" width="230.80000000000007" height="1.5" fill="#e2e2e2"/>
<rect x="604.4" y="283.76" width="230.80000000000007" height="1.5" fill="#e2e2e2"/>
<rect x="604.4" y="292.68" width="230.80000000000007" height="1.5" fill="#e2e2e2"/>
<rect x="604.4" y="301.60" width="230.80000000000007" height="1.5" fill="#e2e2e2"/>
<rect x="604.4" y="310.51" width="230.80000000000007" height="1.5" fill="#e2e2e2"/>
<path d="M616.5 24.4v-3.8M637.3 24.4v-3.8M658.1 24.4v-3.8M678.9 24.4v-3.8M699.7 24.4v-3.8M720.5 24.4v-3.8M741.3 24.4v-3.8M762.1 24.4v-3.8M782.9 24.4v-3.8M803.7 24.4v-3.8M824.5 24.4v-3.8M616.5 33.3v-3.8M637.3 33.3v-3.8M658.1 33.3v-3.8M678.9 33.3v-3.8M699.7 33.3v-3.8M720.5 33.3v-3.8M741.3 33.3v-3.8M762.1 33.3v-3.8M782.9 33.3v-3.8M803.7 33.3v-3.8M824.5 33.3v-3.8M616.5 42.2v-3.8M637.3 42.2v-3.8M658.1 42.2v-3.8M678.9 42.2v-3.8M699.7 42.2v-3.8M720.5 42.2v-3.8M741.3 42.2v-3.8M762.1 42.2v-3.8M782.9 42.2v-3.8M803.7 42.2v-3.8M824.5 42.2v-3.8M616.5 51.1v-3.8M637.3 51.1v-3.8M658.1 51.1v-3.8M678.9 51.1v-3.8M699.7 51.1v-3.8M720.5 51.1v-3.8M741.3 51.1v-3.8M762.1 51.1v-3.8M782.9 51.1v-3.8M803.7 51.1v-3.8M824.5 51.1v-3.8M616.5 60.1v-3.8M637.3 60.1v-3.8M658.1 60.1v-3.8M678.9 60.1v-3.8M699.7 60.1v-3.8M720.5 60.1v-3.8M741.3 60.1v-3.8M762.1 60.1v-3.8M782.9 60.1v-3.8M803.7 60.1v-3.8M824.5 60.1v-3.8M616.5 69.0v-3.8M637.3 69.0v-3.8M658.1 69.0v-3.8M678.9 69.0v-3.8M699.7 69.0v-3.8M720.5 69.0v-3.8M741.3 69.0v-3.8M762.1 69.0v-3.8M782.9 69.0v-3.8M803.7 69.0v-3.8M824.5 69.0v-3.8M616.5 77.9v-3.8M637.3 77.9v-3.8M658.1 77.9v-3.8M678.9 77.9v-3.8M699.7 77.9v-3.8M720.5 77.9v-3.8M741.3 77.9v-3.8M762.1 77.9v-3.8M782.9 77.9v-3.8M803.7 77.9v-3.8M824.5 77.9v-3.8M616.5 86.8v-3.8M637.3 86.8v-3.8M658.1 86.8v-3.8M678.9 86.8v-3.8M699.7 86.8v-3.8M720.5 86.8v-3.8M741.3 86.8v-3.8M762.1 86.8v-3.8M782.9 86.8v-3.8M803.7 86.8v-3.8M824.5 86.8v-3.8M616.5 95.7v-3.8M637.3 95.7v-3.8M658.1 95.7v-3.8M678.9 95.7v-3.8M699.7 95.7v-3.8M720.5 95.7v-3.8M741.3 95.7v-3.8M762.1 95.7v-3.8M782.9 95.7v-3.8M803.7 95.7v-3.8M824.5 95.7v-3.8M616.5 104.6v-3.8M637.3 104.6v-3.8M658.1 104.6v-3.8M678.9 104.6v-3.8M699.7 104.6v-3.8M720.5 104.6v-3.8M741.3 104.6v-3.8M762.1 104.6v-3.8M782.9 104.6v-3.8M803.7 104.6v-3.8M824.5 104.6v-3.8M616.5 113.6v-3.8M637.3 113.6v-3.8M658.1 113.6v-3.8M678.9 113.6v-3.8M699.7 113.6v-3.8M720.5 113.6v-3.8M741.3 113.6v-3.8M762.1 113.6v-3.8M782.9 113.6v-3.8M803.7 113.6v-3.8M824.5 113.6v-3.8M616.5 122.5v-3.8M637.3 122.5v-3.8M658.1 122.5v-3.8M678.9 122.5v-3.8M699.7 122.5v-3.8M720.5 122.5v-3.8M741.3 122.5v-3.8M762.1 122.5v-3.8M782.9 122.5v-3.8M803.7 122.5v-3.8M824.5 122.5v-3.8M616.5 131.4v-3.8M637.3 131.4v-3.8M658.1 131.4v-3.8M678.9 131.4v-3.8M699.7 131.4v-3.8M720.5 131.4v-3.8M741.3 131.4v-3.8M762.1 131.4v-3.8M782.9 131.4v-3.8M803.7 131.4v-3.8M824.5 131.4v-3.8M616.5 140.3v-3.8M637.3 140.3v-3.8M658.1 140.3v-3.8M678.9 140.3v-3.8M699.7 140.3v-3.8M720.5 140.3v-3.8M741.3 140.3v-3.8M762.1 140.3v-3.8M782.9 140.3v-3.8M803.7 140.3v-3.8M824.5 140.3v-3.8M616.5 149.2v-3.8M637.3 149.2v-3.8M658.1 149.2v-3.8M678.9 149.2v-3.8M699.7 149.2v-3.8M720.5 149.2v-3.8M741.3 149.2v-3.8M762.1 149.2v-3.8M782.9 149.2v-3.8M803.7 149.2v-3.8M824.5 149.2v-3.8M616.5 158.1v-3.8M637.3 158.1v-3.8M658.1 158.1v-3.8M678.9 158.1v-3.8M699.7 158.1v-3.8M720.5 158.1v-3.8M741.3 158.1v-3.8M762.1 158.1v-3.8M782.9 158.1v-3.8M803.7 158.1v-3.8M824.5 158.1v-3.8M616.5 167.1v-3.8M637.3 167.1v-3.8M658.1 167.1v-3.8M678.9 167.1v-3.8M699.7 167.1v-3.8M720.5 167.1v-3.8M741.3 167.1v-3.8M762.1 167.1v-3.8M782.9 167.1v-3.8M803.7 167.1v-3.8M824.5 167.1v-3.8M616.5 176.0v-3.8M637.3 176.0v-3.8M658.1 176.0v-3.8M678.9 176.0v-3.8M699.7 176.0v-3.8M720.5 176.0v-3.8M741.3 176.0v-3.8M762.1 176.0v-3.8M782.9 176.0v-3.8M803.7 176.0v-3.8M824.5 176.0v-3.8M616.5 184.9v-3.8M637.3 184.9v-3.8M658.1 184.9v-3.8M678.9 184.9v-3.8M699.7 184.9v-3.8M720.5 184.9v-3.8M741.3 184.9v-3.8M762.1 184.9v-3.8M782.9 184.9v-3.8M803.7 184.9v-3.8M824.5 184.9v-3.8M616.5 193.8v-3.8M637.3 193.8v-3.8M658.1 193.8v-3.8M678.9 193.8v-3.8M699.7 193.8v-3.8M720.5 193.8v-3.8M741.3 193.8v-3.8M762.1 193.8v-3.8M782.9 193.8v-3.8M803.7 193.8v-3.8M824.5 193.8v-3.8M616.5 202.7v-3.8M637.3 202.7v-3.8M658.1 202.7v-3.8M678.9 202.7v-3.8M699.7 202.7v-3.8M720.5 202.7v-3.8M741.3 202.7v-3.8M762.1 202.7v-3.8M782.9 202.7v-3.8M803.7 202.7v-3.8M824.5 202.7v-3.8M616.5 211.6v-3.8M637.3 211.6v-3.8M658.1 211.6v-3.8M678.9 211.6v-3.8M699.7 211.6v-3.8M720.5 211.6v-3.8M741.3 211.6v-3.8M762.1 211.6v-3.8M782.9 211.6v-3.8M803.7 211.6v-3.8M824.5 211.6v-3.8M616.5 220.6v-3.8M637.3 220.6v-3.8M658.1 220.6v-3.8M678.9 220.6v-3.8M699.7 220.6v-3.8M720.5 220.6v-3.8M741.3 220.6v-3.8M762.1 220.6v-3.8M782.9 220.6v-3.8M803.7 220.6v-3.8M824.5 220.6v-3.8M616.5 229.5v-3.8M637.3 229.5v-3.8M658.1 229.5v-3.8M678.9 229.5v-3.8M699.7 229.5v-3.8M720.5 229.5v-3.8M741.3 229.5v-3.8M762.1 229.5v-3.8M782.9 229.5v-3.8M803.7 229.5v-3.8M824.5 229.5v-3.8M616.5 238.4v-3.8M637.3 238.4v-3.8M658.1 238.4v-3.8M678.9 238.4v-3.8M699.7 238.4v-3.8M720.5 238.4v-3.8M741.3 238.4v-3.8M762.1 238.4v-3.8M782.9 238.4v-3.8M803.7 238.4v-3.8M824.5 238.4v-3.8M616.5 247.3v-3.8M637.3 247.3v-3.8M658.1 247.3v-3.8M678.9 247.3v-3.8M699.7 247.3v-3.8M720.5 247.3v-3.8M741.3 247.3v-3.8M762.1 247.3v-3.8M782.9 247.3v-3.8M803.7 247.3v-3.8M824.5 247.3v-3.8M616.5 256.2v-3.8M637.3 256.2v-3.8M658.1 256.2v-3.8M678.9 256.2v-3.8M699.7 256.2v-3.8M720.5 256.2v-3.8M741.3 256.2v-3.8M762.1 256.2v-3.8M782.9 256.2v-3.8M803.7 256.2v-3.8M824.5 256.2v-3.8M616.5 265.1v-3.8M637.3 265.1v-3.8M658.1 265.1v-3.8M678.9 265.1v-3.8M699.7 265.1v-3.8M720.5 265.1v-3.8M741.3 265.1v-3.8M762.1 265.1v-3.8M782.9 265.1v-3.8M803.7 265.1v-3.8M824.5 265.1v-3.8M616.5 274.0v-3.8M637.3 274.0v-3.8M658.1 274.0v-3.8M678.9 274.0v-3.8M699.7 274.0v-3.8M720.5 274.0v-3.8M741.3 274.0v-3.8M762.1 274.0v-3.8M782.9 274.0v-3.8M803.7 274.0v-3.8M824.5 274.0v-3.8M616.5 283.0v-3.8M637.3 283.0v-3.8M658.1 283.0v-3.8M678.9 283.0v-3.8M699.7 283.0v-3.8M720.5 283.0v-3.8M741.3 283.0v-3.8M762.1 283.0v-3.8M782.9 283.0v-3.8M803.7 283.0v-3.8M824.5 283.0v-3.8M616.5 291.9v-3.8M637.3 291.9v-3.8M658.1 291.9v-3.8M678.9 291.9v-3.8M699.7 291.9v-3.8M720.5 291.9v-3.8M741.3 291.9v-3.8M762.1 291.9v-3.8M782.9 291.9v-3.8M803.7 291.9v-3.8M824.5 291.9v-3.8M616.5 300.8v-3.8M637.3 300.8v-3.8M658.1 300.8v-3.8M678.9 300.8v-3.8M699.7 300.8v-3.8M720.5 300.8v-3.8M741.3 300.8v-3.8M762.1 300.8v-3.8M782.9 300.8v-3.8M803.7 300.8v-3.8M824.5 300.8v-3.8M616.5 309.7v-3.8M637.3 309.7v-3.8M658.1 309.7v-3.8M678.9 309.7v-3.8M699.7 309.7v-3.8M720.5 309.7v-3.8M741.3 309.7v-3.8M762.1 309.7v-3.8M782.9 309.7v-3.8M803.7 309.7v-3.8M824.5 309.7v-3.8" stroke="#8a8a8a" stroke-width="1.1"/>
<path d="M609.50 20.55Q614.40 19.09 616.50 17.30Q618.60 19.09 623.50 20.55Q618.60 22.01 616.50 23.80Q614.40 22.01 609.50 20.55Z" fill="#D9736A"/>
<path d="M697.20 21.30Q698.95 20.17 699.70 18.80Q700.45 20.17 702.20 21.30Q700.45 22.42 699.70 23.80Q698.95 22.42 697.20 21.30Z" fill="#D03FD0"/>
<path d="M780.27 24.10Q782.51 22.85 782.90 19.10Q783.29 22.85 785.52 24.10Z" fill="#2E8A2E"/>
<path d="M801.83 24.10Q803.42 22.97 803.70 19.60Q803.98 22.97 805.58 24.10Z" fill="#2F84A6"/>
<path d="M822.25 24.10Q824.16 23.22 824.50 20.60Q824.84 23.22 826.75 24.10Z" fill="#A8242E"/>
<path d="M612.00 29.97Q615.15 28.73 616.50 27.22Q617.85 28.73 621.00 29.97Q617.85 31.20 616.50 32.72Q615.15 31.20 612.00 29.97Z" fill="#D9736A"/>
<path d="M696.70 29.97Q698.80 28.73 699.70 27.22Q700.60 28.73 702.70 29.97Q700.60 31.20 699.70 32.72Q698.80 31.20 696.70 29.97Z" fill="#D03FD0"/>
<path d="M781.02 33.02Q782.62 32.02 782.90 29.02Q783.18 32.02 784.77 33.02Z" fill="#2E8A2E"/>
<path d="M614.50 38.63Q615.90 37.28 616.50 35.63Q617.10 37.28 618.50 38.63Q617.10 39.98 616.50 41.63Q615.90 39.98 614.50 38.63Z" fill="#D9736A"/>
<path d="M696.95 38.88Q698.88 37.64 699.70 36.13Q700.53 37.64 702.45 38.88Q700.53 40.12 699.70 41.63Q698.88 40.12 696.95 38.88Z" fill="#D03FD0"/>
<path d="M781.02 41.93Q782.62 40.93 782.90 37.93Q783.18 40.93 784.77 41.93Z" fill="#2E8A2E"/>
<path d="M627.30 48.25Q632.80 45.75 637.30 45.75Q641.80 45.75 647.30 48.25Q639.30 49.25 638.10 50.75L636.50 50.75Q635.30 49.25 627.30 48.25Z" fill="#35C035"/>
<path d="M675.15 50.85Q678.34 49.85 678.90 46.85Q679.46 49.85 682.65 50.85Z" fill="#BFD22A"/>
<path d="M717.50 50.85Q720.05 49.97 720.50 47.35Q720.95 49.97 723.50 50.85Z" fill="#E8601E"/>
<path d="M736.80 48.05Q739.95 46.92 741.30 45.55Q742.65 46.92 745.80 48.05Q742.65 49.17 741.30 50.55Q739.95 49.17 736.80 48.05Z" fill="#4CD1CF"/>
<path d="M759.60 48.05Q761.35 46.92 762.10 45.55Q762.85 46.92 764.60 48.05Q762.85 49.17 762.10 50.55Q761.35 49.17 759.60 48.05Z" fill="#DDA030"/>
<path d="M780.65 50.85Q782.56 49.85 782.90 46.85Q783.24 49.85 785.15 50.85Z" fill="#2E8A2E"/>
<path d="M821.88 50.85Q824.11 49.97 824.50 47.35Q824.89 49.97 827.12 50.85Z" fill="#A8242E"/>
<path d="M627.30 56.16Q632.80 52.66 637.30 52.66Q641.80 52.66 647.30 56.16Q639.30 57.56 638.10 59.66L636.50 59.66Q635.30 57.56 627.30 56.16Z" fill="#35C035"/>
<path d="M675.15 59.76Q678.34 59.01 678.90 56.76Q679.46 59.01 682.65 59.76Z" fill="#BFD22A"/>
<path d="M716.50 58.16Q718.70 56.66 720.50 56.66Q722.30 56.66 724.50 58.16Q721.30 58.76 721.30 59.66L719.70 59.66Q719.70 58.76 716.50 58.16Z" fill="#E8601E"/>
<path d="M736.80 59.76Q740.62 59.01 741.30 56.76Q741.97 59.01 745.80 59.76Z" fill="#4CD1CF"/>
<path d="M773.40 57.66Q778.62 55.66 782.90 55.66Q787.17 55.66 792.40 57.66Q784.80 58.46 783.70 59.66L782.10 59.66Q781.00 58.46 773.40 57.66Z" fill="#2E8A2E"/>
<path d="M815.50 57.66Q820.45 55.66 824.50 55.66Q828.55 55.66 833.50 57.66Q826.30 58.46 825.30 59.66L823.70 59.66Q822.70 58.46 815.50 57.66Z" fill="#A8242E"/>
<path d="M627.30 66.33Q632.80 64.08 637.30 64.08Q641.80 64.08 647.30 66.33Q639.30 67.23 638.10 68.58L636.50 68.58Q635.30 67.23 627.30 66.33Z" fill="#35C035"/>
<path d="M655.10 68.68Q657.65 67.68 658.10 64.68Q658.55 67.68 661.10 68.68Z" fill="#4F6FD6"/>
<path d="M674.90 66.08Q677.10 63.58 678.90 63.58Q680.70 63.58 682.90 66.08Q679.70 67.08 679.70 68.58L678.10 68.58Q678.10 67.08 674.90 66.08Z" fill="#BFD22A"/>
<path d="M710.50 66.08Q716.00 63.58 720.50 63.58Q725.00 63.58 730.50 66.08Q722.50 67.08 721.30 68.58L719.70 68.58Q718.50 67.08 710.50 66.08Z" fill="#E8601E"/>
<path d="M731.30 65.83Q736.80 63.08 741.30 63.08Q745.80 63.08 751.30 65.83Q743.30 66.93 742.10 68.58L740.50 68.58Q739.30 66.93 731.30 65.83Z" fill="#4CD1CF"/>
<path d="M756.60 66.08Q759.62 63.58 762.10 63.58Q764.58 63.58 767.60 66.08Q763.20 67.08 762.90 68.58L761.30 68.58Q761.00 67.08 756.60 66.08Z" fill="#DDA030"/>
<path d="M779.15 68.68Q782.34 67.43 782.90 63.68Q783.46 67.43 786.65 68.68Z" fill="#2E8A2E"/>
<path d="M801.45 68.68Q803.36 67.55 803.70 64.18Q804.04 67.55 805.95 68.68Z" fill="#2F84A6"/>
<path d="M814.50 66.08Q820.00 63.58 824.50 63.58Q829.00 63.58 834.50 66.08Q826.50 67.08 825.30 68.58L823.70 68.58Q822.50 67.08 814.50 66.08Z" fill="#A8242E"/>
<path d="M610.50 75.50Q613.80 73.50 616.50 73.50Q619.20 73.50 622.50 75.50Q617.70 76.30 617.30 77.50L615.70 77.50Q615.30 76.30 610.50 75.50Z" fill="#D9736A"/>
<path d="M631.30 75.50Q634.60 73.50 637.30 73.50Q640.00 73.50 643.30 75.50Q638.50 76.30 638.10 77.50L636.50 77.50Q636.10 76.30 631.30 75.50Z" fill="#35C035"/>
<path d="M647.60 73.00Q653.38 68.50 658.10 68.50Q662.83 68.50 668.60 73.00Q660.20 74.80 658.90 77.50L657.30 77.50Q656.00 74.80 647.60 73.00Z" fill="#4F6FD6"/>
<path d="M668.90 75.75Q674.40 74.00 678.90 74.00Q683.40 74.00 688.90 75.75Q680.90 76.45 679.70 77.50L678.10 77.50Q676.90 76.45 668.90 75.75Z" fill="#BFD22A"/>
<path d="M692.70 75.50Q696.55 73.50 699.70 73.50Q702.85 73.50 706.70 75.50Q701.10 76.30 700.50 77.50L698.90 77.50Q698.30 76.30 692.70 75.50Z" fill="#D03FD0"/>
<path d="M710.50 74.00Q716.00 70.50 720.50 70.50Q725.00 70.50 730.50 74.00Q722.50 75.40 721.30 77.50L719.70 77.50Q718.50 75.40 710.50 74.00Z" fill="#E8601E"/>
<path d="M732.30 75.75Q737.25 74.00 741.30 74.00Q745.35 74.00 750.30 75.75Q743.10 76.45 742.10 77.50L740.50 77.50Q739.50 76.45 732.30 75.75Z" fill="#4CD1CF"/>
<path d="M753.10 75.25Q758.05 73.00 762.10 73.00Q766.15 73.00 771.10 75.25Q763.90 76.15 762.90 77.50L761.30 77.50Q760.30 76.15 753.10 75.25Z" fill="#DDA030"/>
<path d="M773.90 75.00Q778.85 72.50 782.90 72.50Q786.95 72.50 791.90 75.00Q784.70 76.00 783.70 77.50L782.10 77.50Q781.10 76.00 773.90 75.00Z" fill="#2E8A2E"/>
<path d="M793.70 74.50Q799.20 71.50 803.70 71.50Q808.20 71.50 813.70 74.50Q805.70 75.70 804.50 77.50L802.90 77.50Q801.70 75.70 793.70 74.50Z" fill="#2F84A6"/>
<path d="M815.50 75.50Q820.45 73.50 824.50 73.50Q828.55 73.50 833.50 75.50Q826.30 76.30 825.30 77.50L823.70 77.50Q822.70 76.30 815.50 75.50Z" fill="#A8242E"/>
<path d="M648.10 82.91Q653.60 79.41 658.10 79.41Q662.60 79.41 668.10 82.91Q660.10 84.31 658.90 86.41L657.30 86.41Q656.10 84.31 648.10 82.91Z" fill="#4F6FD6"/>
<path d="M717.50 86.51Q720.05 85.39 720.50 82.01Q720.95 85.39 723.50 86.51Z" fill="#E8601E"/>
<path d="M649.10 92.08Q654.05 88.83 658.10 88.83Q662.15 88.83 667.10 92.08Q659.90 93.38 658.90 95.33L657.30 95.33Q656.30 93.38 649.10 92.08Z" fill="#4F6FD6"/>
<path d="M801.83 95.43Q803.42 94.43 803.70 91.43Q803.98 94.43 805.58 95.43Z" fill="#2F84A6"/>
<path d="M668.90 101.24Q674.40 98.24 678.90 98.24Q683.40 98.24 688.90 101.24Q680.90 102.44 679.70 104.24L678.10 104.24Q676.90 102.44 668.90 101.24Z" fill="#BFD22A"/>
<path d="M717.50 104.34Q720.05 103.09 720.50 99.34Q720.95 103.09 723.50 104.34Z" fill="#E8601E"/>
<path d="M731.30 100.99Q736.80 97.74 741.30 97.74Q745.80 97.74 751.30 100.99Q743.30 102.29 742.10 104.24L740.50 104.24Q739.30 102.29 731.30 100.99Z" fill="#4CD1CF"/>
<path d="M758.10 101.04Q760.90 99.69 762.10 98.04Q763.30 99.69 766.10 101.04Q763.30 102.39 762.10 104.04Q760.90 102.39 758.10 101.04Z" fill="#DDA030"/>
<path d="M668.90 110.16Q674.40 107.16 678.90 107.16Q683.40 107.16 688.90 110.16Q680.90 111.36 679.70 113.16L678.10 113.16Q676.90 111.36 668.90 110.16Z" fill="#BFD22A"/>
<path d="M760.10 109.46Q761.50 107.89 762.10 105.96Q762.70 107.89 764.10 109.46Q762.70 111.04 762.10 112.96Q761.50 111.04 760.10 109.46Z" fill="#DDA030"/>
<path d="M668.90 119.58Q674.40 117.08 678.90 117.08Q683.40 117.08 688.90 119.58Q680.90 120.58 679.70 122.08L678.10 122.08Q676.90 120.58 668.90 119.58Z" fill="#BFD22A"/>
<path d="M714.00 119.33Q717.58 116.58 720.50 116.58Q723.42 116.58 727.00 119.33Q721.80 120.43 721.30 122.08L719.70 122.08Q719.20 120.43 714.00 119.33Z" fill="#E8601E"/>
<path d="M731.30 119.58Q736.80 117.08 741.30 117.08Q745.80 117.08 751.30 119.58Q743.30 120.58 742.10 122.08L740.50 122.08Q739.30 120.58 731.30 119.58Z" fill="#4CD1CF"/>
<path d="M759.10 118.38Q761.20 116.80 762.10 114.88Q763.00 116.80 765.10 118.38Q763.00 119.95 762.10 121.88Q761.20 119.95 759.10 118.38Z" fill="#DDA030"/>
<path d="M689.70 127.49Q695.20 123.99 699.70 123.99Q704.20 123.99 709.70 127.49Q701.70 128.89 700.50 130.99L698.90 130.99Q697.70 128.89 689.70 127.49Z" fill="#D03FD0"/>
<path d="M675.90 137.46Q678.00 136.45 678.90 135.21Q679.80 136.45 681.90 137.46Q679.80 138.47 678.90 139.71Q678.00 138.47 675.90 137.46Z" fill="#BFD22A"/>
<path d="M694.20 136.21Q698.05 134.63 699.70 132.71Q701.35 134.63 705.20 136.21Q701.35 137.78 699.70 139.71Q698.05 137.78 694.20 136.21Z" fill="#D03FD0"/>
<path d="M635.80 140.01Q637.07 139.13 637.30 136.51Q637.52 139.13 638.80 140.01Z" fill="#35C035"/>
<path d="M614.00 146.12Q615.75 145.00 616.50 143.62Q617.25 145.00 619.00 146.12Q617.25 147.25 616.50 148.62Q615.75 147.25 614.00 146.12Z" fill="#D9736A"/>
<path d="M656.23 148.92Q657.82 148.05 658.10 145.42Q658.38 148.05 659.98 148.92Z" fill="#4F6FD6"/>
<path d="M689.70 145.82Q695.20 142.82 699.70 142.82Q704.20 142.82 709.70 145.82Q701.70 147.02 700.50 148.82L698.90 148.82Q697.70 147.02 689.70 145.82Z" fill="#D03FD0"/>
<path d="M779.90 148.92Q782.45 147.67 782.90 143.92Q783.35 147.67 785.90 148.92Z" fill="#2E8A2E"/>
<path d="M716.50 153.74Q718.70 149.74 720.50 149.74Q722.30 149.74 724.50 153.74Q721.30 155.34 721.30 157.74L719.70 157.74Q719.70 155.34 716.50 153.74Z" fill="#E8601E"/>
<path d="M668.90 164.16Q674.40 161.66 678.90 161.66Q683.40 161.66 688.90 164.16Q680.90 165.16 679.70 166.66L678.10 166.66Q676.90 165.16 668.90 164.16Z" fill="#BFD22A"/>
<path d="M710.50 164.66Q716.00 162.66 720.50 162.66Q725.00 162.66 730.50 164.66Q722.50 165.46 721.30 166.66L719.70 166.66Q718.50 165.46 710.50 164.66Z" fill="#E8601E"/>
<path d="M731.30 163.91Q736.80 161.16 741.30 161.16Q745.80 161.16 751.30 163.91Q743.30 165.01 742.10 166.66L740.50 166.66Q739.30 165.01 731.30 163.91Z" fill="#4CD1CF"/>
<path d="M757.10 163.46Q760.60 162.11 762.10 160.46Q763.60 162.11 767.10 163.46Q763.60 164.81 762.10 166.46Q760.60 164.81 757.10 163.46Z" fill="#DDA030"/>
<path d="M778.40 164.16Q780.88 161.66 782.90 161.66Q784.92 161.66 787.40 164.16Q783.80 165.16 783.70 166.66L782.10 166.66Q782.00 165.16 778.40 164.16Z" fill="#2E8A2E"/>
<path d="M822.25 166.76Q824.16 165.76 824.50 162.76Q824.84 165.76 826.75 166.76Z" fill="#A8242E"/>
<path d="M716.00 175.67Q719.83 173.80 720.50 168.17Q721.17 173.80 725.00 175.67Z" fill="#E8601E"/>
<path d="M710.50 181.49Q716.00 178.49 720.50 178.49Q725.00 178.49 730.50 181.49Q722.50 182.69 721.30 184.49L719.70 184.49Q718.50 182.69 710.50 181.49Z" fill="#E8601E"/>
<path d="M731.30 182.49Q736.80 180.49 741.30 180.49Q745.80 180.49 751.30 182.49Q743.30 183.29 742.10 184.49L740.50 184.49Q739.30 183.29 731.30 182.49Z" fill="#4CD1CF"/>
<path d="M759.10 181.29Q761.20 179.94 762.10 178.29Q763.00 179.94 765.10 181.29Q763.00 182.64 762.10 184.29Q761.20 182.64 759.10 181.29Z" fill="#DDA030"/>
<path d="M736.80 193.50Q740.62 191.63 741.30 186.00Q741.97 191.63 745.80 193.50Z" fill="#4CD1CF"/>
<path d="M655.85 202.42Q657.76 201.29 658.10 197.92Q658.44 201.29 660.35 202.42Z" fill="#4F6FD6"/>
<path d="M675.40 199.12Q677.85 197.77 678.90 196.12Q679.95 197.77 682.40 199.12Q679.95 200.47 678.90 202.12Q677.85 200.47 675.40 199.12Z" fill="#BFD22A"/>
<path d="M714.50 199.82Q717.80 197.32 720.50 197.32Q723.20 197.32 726.50 199.82Q721.70 200.82 721.30 202.32L719.70 202.32Q719.30 200.82 714.50 199.82Z" fill="#E8601E"/>
<path d="M731.30 199.32Q736.80 196.32 741.30 196.32Q745.80 196.32 751.30 199.32Q743.30 200.52 742.10 202.32L740.50 202.32Q739.30 200.52 731.30 199.32Z" fill="#4CD1CF"/>
<path d="M759.10 199.12Q761.20 197.77 762.10 196.12Q763.00 197.77 765.10 199.12Q763.00 200.47 762.10 202.12Q761.20 200.47 759.10 199.12Z" fill="#DDA030"/>
<path d="M668.90 208.24Q674.40 205.24 678.90 205.24Q683.40 205.24 688.90 208.24Q680.90 209.44 679.70 211.24L678.10 211.24Q676.90 209.44 668.90 208.24Z" fill="#BFD22A"/>
<path d="M710.50 208.24Q716.00 205.24 720.50 205.24Q725.00 205.24 730.50 208.24Q722.50 209.44 721.30 211.24L719.70 211.24Q718.50 209.44 710.50 208.24Z" fill="#E8601E"/>
<path d="M731.30 208.24Q736.80 205.24 741.30 205.24Q745.80 205.24 751.30 208.24Q743.30 209.44 742.10 211.24L740.50 211.24Q739.30 209.44 731.30 208.24Z" fill="#4CD1CF"/>
<path d="M752.10 207.79Q759.10 206.32 762.10 204.54Q765.10 206.32 772.10 207.79Q765.10 209.25 762.10 211.04Q759.10 209.25 752.10 207.79Z" fill="#DDA030"/>
<path d="M668.90 217.15Q674.40 214.15 678.90 214.15Q683.40 214.15 688.90 217.15Q680.90 218.35 679.70 220.15L678.10 220.15Q676.90 218.35 668.90 217.15Z" fill="#BFD22A"/>
<path d="M710.50 217.15Q716.00 214.15 720.50 214.15Q725.00 214.15 730.50 217.15Q722.50 218.35 721.30 220.15L719.70 220.15Q718.50 218.35 710.50 217.15Z" fill="#E8601E"/>
<path d="M731.30 217.15Q736.80 214.15 741.30 214.15Q745.80 214.15 751.30 217.15Q743.30 218.35 742.10 220.15L740.50 220.15Q739.30 218.35 731.30 217.15Z" fill="#4CD1CF"/>
<path d="M756.10 216.95Q760.30 215.60 762.10 213.95Q763.90 215.60 768.10 216.95Q763.90 218.30 762.10 219.95Q760.30 218.30 756.10 216.95Z" fill="#DDA030"/>
<path d="M655.48 229.17Q657.71 228.17 658.10 225.17Q658.49 228.17 660.73 229.17Z" fill="#4F6FD6"/>
<path d="M668.90 226.57Q674.40 224.07 678.90 224.07Q683.40 224.07 688.90 226.57Q680.90 227.57 679.70 229.07L678.10 229.07Q676.90 227.57 668.90 226.57Z" fill="#BFD22A"/>
<path d="M710.50 227.07Q716.00 225.07 720.50 225.07Q725.00 225.07 730.50 227.07Q722.50 227.87 721.30 229.07L719.70 229.07Q718.50 227.87 710.50 227.07Z" fill="#E8601E"/>
<path d="M731.30 226.57Q736.80 224.07 741.30 224.07Q745.80 224.07 751.30 226.57Q743.30 227.57 742.10 229.07L740.50 229.07Q739.30 227.57 731.30 226.57Z" fill="#4CD1CF"/>
<path d="M757.10 225.87Q760.60 224.52 762.10 222.87Q763.60 224.52 767.10 225.87Q763.60 227.22 762.10 228.87Q760.60 227.22 757.10 225.87Z" fill="#DDA030"/>
<path d="M636.17 238.08Q637.13 236.83 637.30 233.08Q637.47 236.83 638.42 238.08Z" fill="#35C035"/>
<path d="M775.90 234.23Q779.75 230.48 782.90 230.48Q786.05 230.48 789.90 234.23Q784.30 235.73 783.70 237.98L782.10 237.98Q781.50 235.73 775.90 234.23Z" fill="#2E8A2E"/>
<path d="M636.17 247.00Q637.13 245.75 637.30 242.00Q637.47 245.75 638.42 247.00Z" fill="#35C035"/>
<path d="M656.60 247.00Q657.88 246.00 658.10 243.00Q658.33 246.00 659.60 247.00Z" fill="#4F6FD6"/>
<path d="M774.90 243.15Q779.30 239.40 782.90 239.40Q786.50 239.40 790.90 243.15Q784.50 244.65 783.70 246.90L782.10 246.90Q781.30 244.65 774.90 243.15Z" fill="#2E8A2E"/>
<path d="M636.17 255.92Q637.13 254.79 637.30 251.42Q637.47 254.79 638.42 255.92Z" fill="#35C035"/>
<path d="M774.90 252.07Q779.30 248.32 782.90 248.32Q786.50 248.32 790.90 252.07Q784.50 253.57 783.70 255.82L782.10 255.82Q781.30 253.57 774.90 252.07Z" fill="#2E8A2E"/>
<path d="M793.70 260.98Q799.20 257.23 803.70 257.23Q808.20 257.23 813.70 260.98Q805.70 262.48 804.50 264.73L802.90 264.73Q801.70 262.48 793.70 260.98Z" fill="#2F84A6"/>
<path d="M793.70 269.90Q799.20 266.15 803.70 266.15Q808.20 266.15 813.70 269.90Q805.70 271.40 804.50 273.65L802.90 273.65Q801.70 271.40 793.70 269.90Z" fill="#2F84A6"/>
<path d="M655.10 282.66Q657.65 281.54 658.10 278.16Q658.55 281.54 661.10 282.66Z" fill="#4F6FD6"/>
<path d="M710.50 280.31Q716.00 278.06 720.50 278.06Q725.00 278.06 730.50 280.31Q722.50 281.21 721.30 282.56L719.70 282.56Q718.50 281.21 710.50 280.31Z" fill="#E8601E"/>
<path d="M794.70 279.31Q799.65 276.06 803.70 276.06Q807.75 276.06 812.70 279.31Q805.50 280.61 804.50 282.56L802.90 282.56Q801.90 280.61 794.70 279.31Z" fill="#2F84A6"/>
<path d="M814.50 288.23Q820.00 284.98 824.50 284.98Q829.00 284.98 834.50 288.23Q826.50 289.53 825.30 291.48L823.70 291.48Q822.50 289.53 814.50 288.23Z" fill="#A8242E"/>
<path d="M814.50 296.65Q820.00 292.90 824.50 292.90Q829.00 292.90 834.50 296.65Q826.50 298.15 825.30 300.40L823.70 300.40Q822.50 298.15 814.50 296.65Z" fill="#A8242E"/>
<path d="M817.00 306.31Q821.12 303.31 824.50 303.31Q827.88 303.31 832.00 306.31Q826.00 307.51 825.30 309.31L823.70 309.31Q823.00 307.51 817.00 306.31Z" fill="#A8242E"/>
<rect x="604.4" y="23.50" width="230.80000000000007" height="1.8" fill="#959595"/>
<rect x="604.4" y="32.42" width="230.80000000000007" height="1.8" fill="#959595"/>
<rect x="604.4" y="41.33" width="230.80000000000007" height="1.8" fill="#959595"/>
<rect x="604.4" y="50.25" width="230.80000000000007" height="1.8" fill="#959595"/>
<rect x="604.4" y="59.16" width="230.80000000000007" height="1.8" fill="#959595"/>
<rect x="604.4" y="68.08" width="230.80000000000007" height="1.8" fill="#959595"/>
<rect x="604.4" y="77.00" width="230.80000000000007" height="1.8" fill="#959595"/>
<rect x="604.4" y="85.91" width="230.80000000000007" height="1.8" fill="#959595"/>
<rect x="604.4" y="94.83" width="230.80000000000007" height="1.8" fill="#959595"/>
<rect x="604.4" y="103.74" width="230.80000000000007" height="1.8" fill="#959595"/>
<rect x="604.4" y="112.66" width="230.80000000000007" height="1.8" fill="#959595"/>
<rect x="604.4" y="121.58" width="230.80000000000007" height="1.8" fill="#959595"/>
<rect x="604.4" y="130.49" width="230.80000000000007" height="1.8" fill="#959595"/>
<rect x="604.4" y="139.41" width="230.80000000000007" height="1.8" fill="#959595"/>
<rect x="604.4" y="148.32" width="230.80000000000007" height="1.8" fill="#959595"/>
<rect x="604.4" y="157.24" width="230.80000000000007" height="1.8" fill="#959595"/>
<rect x="604.4" y="166.16" width="230.80000000000007" height="1.8" fill="#959595"/>
<rect x="604.4" y="175.07" width="230.80000000000007" height="1.8" fill="#959595"/>
<rect x="604.4" y="183.99" width="230.80000000000007" height="1.8" fill="#959595"/>
<rect x="604.4" y="192.90" width="230.80000000000007" height="1.8" fill="#959595"/>
<rect x="604.4" y="201.82" width="230.80000000000007" height="1.8" fill="#959595"/>
<rect x="604.4" y="210.74" width="230.80000000000007" height="1.8" fill="#959595"/>
<rect x="604.4" y="219.65" width="230.80000000000007" height="1.8" fill="#959595"/>
<rect x="604.4" y="228.57" width="230.80000000000007" height="1.8" fill="#959595"/>
<rect x="604.4" y="237.48" width="230.80000000000007" height="1.8" fill="#959595"/>
<rect x="604.4" y="246.40" width="230.80000000000007" height="1.8" fill="#959595"/>
<rect x="604.4" y="255.32" width="230.80000000000007" height="1.8" fill="#959595"/>
<rect x="604.4" y="264.23" width="230.80000000000007" height="1.8" fill="#959595"/>
<rect x="604.4" y="273.15" width="230.80000000000007" height="1.8" fill="#959595"/>
<rect x="604.4" y="282.06" width="230.80000000000007" height="1.8" fill="#959595"/>
<rect x="604.4" y="290.98" width="230.80000000000007" height="1.8" fill="#959595"/>
<rect x="604.4" y="299.90" width="230.80000000000007" height="1.8" fill="#959595"/>
<rect x="604.4" y="308.81" width="230.80000000000007" height="1.8" fill="#959595"/>
<g font-family="Liberation Sans, Arial, sans-serif" font-weight="bold" font-size="10" fill="#141414" text-anchor="end">
<text x="602.2" y="23.1">Rgcc</text>
<text x="602.2" y="32.1">gplhbp1</text>
<text x="602.2" y="41.1">Rbp7</text>
<text x="602.2" y="50.1">Dcn</text>
<text x="602.2" y="59.1">Gsn</text>
<text x="602.2" y="68.1">C3</text>
<text x="602.2" y="77.0">Glycam1</text>
<text x="602.2" y="86.0">Ubd</text>
<text x="602.2" y="95.0">Ackr1</text>
<text x="602.2" y="104.0">Mmrn1</text>
<text x="602.2" y="113.0">Ackr4</text>
<text x="602.2" y="122.0">Fxyd6</text>
<text x="602.2" y="131.0">Sema3g</text>
<text x="602.2" y="140.0">Fbln5</text>
<text x="602.2" y="149.0">Sox17</text>
<text x="602.2" y="157.9">Ccl20</text>
<text x="602.2" y="166.9">Cpe</text>
<text x="602.2" y="175.9">Coch</text>
<text x="602.2" y="184.9">Lyve1</text>
<text x="602.2" y="193.9">Marco</text>
<text x="602.2" y="202.9">F8</text>
<text x="602.2" y="211.9">Maf</text>
<text x="602.2" y="220.9">Prox1</text>
<text x="602.2" y="229.9">Stab1</text>
<text x="602.2" y="238.9">Acta2</text>
<text x="602.2" y="247.8">Tagln</text>
<text x="602.2" y="256.8">Myl9</text>
<text x="602.2" y="265.8">H2-Aa</text>
<text x="602.2" y="274.8">H2-Eb1</text>
<text x="602.2" y="283.8">CD74</text>
<text x="602.2" y="292.8">S100a9</text>
<text x="602.2" y="301.8">S100a8</text>
<text x="602.2" y="310.8">Il1b</text>
</g>
<g font-family="Liberation Sans, Arial, sans-serif" font-weight="bold" font-size="10.6" fill="#1a1a1a" text-anchor="end">
<text transform="translate(619.5 317) rotate(-45)">Endothelial cell</text>
<text transform="translate(640.3 317) rotate(-45)">Fibroblastic reticular cell</text>
<text transform="translate(661.1 317) rotate(-45)">Vein EC</text>
<text transform="translate(681.9 317) rotate(-45)">Ceiling LEC</text>
<text transform="translate(702.7 317) rotate(-45)">Arterial EC</text>
<text transform="translate(723.5 317) rotate(-45)">Floor LEC</text>
<text transform="translate(744.3 317) rotate(-45)">Medullary LEC</text>
<text transform="translate(765.1 317) rotate(-45)">LEC</text>
<text transform="translate(785.9 317) rotate(-45)">Mural cell</text>
<text transform="translate(806.7 317) rotate(-45)">B cell</text>
<text transform="translate(827.5 317) rotate(-45)">Granulocyte</text>
</g>
<text font-family="Liberation Sans, Arial, sans-serif" font-weight="bold" font-size="20" fill="#111" x="521.7" y="22">b</text>
<rect x="244.5" y="415.2" width="185.5" height="274.90000000000003" fill="#fff"/>
<path d="M249.5 415.2V690.1M269.9 415.2V690.1M290.2 415.2V690.1M310.6 415.2V690.1M331.0 415.2V690.1M351.4 415.2V690.1M371.8 415.2V690.1M392.1 415.2V690.1M412.5 415.2V690.1M244.5 422.6H430.0M244.5 436.3H430.0M244.5 449.9H430.0M244.5 463.6H430.0M244.5 477.2H430.0M244.5 490.9H430.0M244.5 504.5H430.0M244.5 518.2H430.0M244.5 531.9H430.0M244.5 545.5H430.0M244.5 559.2H430.0M244.5 572.8H430.0M244.5 586.5H430.0M244.5 600.2H430.0M244.5 613.8H430.0M244.5 627.5H430.0M244.5 641.1H430.0M244.5 654.8H430.0M244.5 668.4H430.0M244.5 682.1H430.0" stroke="#ebebeb" stroke-width="1"/>
<rect x="244.5" y="415.2" width="185.5" height="274.90000000000003" fill="none" stroke="#8a8a8a" stroke-width="1"/>
<path d="M241.5 422.6H244.5M241.5 436.3H244.5M241.5 449.9H244.5M241.5 463.6H244.5M241.5 477.2H244.5M241.5 490.9H244.5M241.5 504.5H244.5M241.5 518.2H244.5M241.5 531.9H244.5M241.5 545.5H244.5M241.5 559.2H244.5M241.5 572.8H244.5M241.5 586.5H244.5M241.5 600.2H244.5M241.5 613.8H244.5M241.5 627.5H244.5M241.5 641.1H244.5M241.5 654.8H244.5M241.5 668.4H244.5M241.5 682.1H244.5M249.5 690.1V693.1M290.2 690.1V693.1M331.0 690.1V693.1M371.8 690.1V693.1M412.5 690.1V693.1" stroke="#444" stroke-width="1"/>
<circle cx="421.5" cy="422.6" r="6.6" fill="#FF0000"/>
<circle cx="410.5" cy="436.3" r="6.6" fill="#0000FF"/>
<circle cx="343.2" cy="449.9" r="5.6" fill="#EE0038"/>
<circle cx="343.2" cy="463.6" r="5.6" fill="#EE0038"/>
<circle cx="343.2" cy="477.2" r="5.6" fill="#EE0038"/>
<circle cx="331.8" cy="490.9" r="5.6" fill="#F80010"/>
<circle cx="331.8" cy="504.5" r="5.6" fill="#EE0038"/>
<circle cx="320.8" cy="518.2" r="5.2" fill="#F80010"/>
<circle cx="320.8" cy="531.9" r="5.2" fill="#8A00D8"/>
<circle cx="320.8" cy="545.5" r="5.2" fill="#8A00D8"/>
<circle cx="320.8" cy="559.2" r="5.2" fill="#1A10F0"/>
<circle cx="309.4" cy="572.8" r="5.0" fill="#A400BC"/>
<circle cx="298.4" cy="586.5" r="5.0" fill="#9400CC"/>
<circle cx="287.0" cy="600.2" r="5.0" fill="#0A00F8"/>
<circle cx="287.0" cy="613.8" r="5.0" fill="#0A00F8"/>
<circle cx="287.0" cy="627.5" r="5.0" fill="#0A00F8"/>
<circle cx="275.6" cy="641.1" r="4.6" fill="#EE0040"/>
<circle cx="275.6" cy="654.8" r="4.6" fill="#9A00CC"/>
<circle cx="264.2" cy="668.4" r="4.0" fill="#9A00CC"/>
<circle cx="252.8" cy="682.1" r="3.2" fill="#9A00CC"/>
<g font-family="Liberation Sans, Arial, sans-serif" font-weight="bold" font-size="10" fill="#222" text-anchor="end">
<text x="240.3" y="426.2">Lysosome</text>
<text x="240.3" y="439.9">Focal adhesion</text>
<text x="240.3" y="453.5">Peroxisome</text>
<text x="240.3" y="467.2">Apoptosis</text>
<text x="240.3" y="480.8">Small cell lung cancer</text>
<text x="240.3" y="494.5">Amino sugar and nucleotide sugar metabolism</text>
<text x="240.3" y="508.1">Complement and coagulation cascades</text>
<text x="240.3" y="521.8">Staphylococcus aureus infection</text>
<text x="240.3" y="535.5">PPAR signaling pathway</text>
<text x="240.3" y="549.1">ECM-receptor interaction</text>
<text x="240.3" y="562.8">mRNA surveillance pathway</text>
<text x="240.3" y="576.4">p53 signaling pathway</text>
<text x="240.3" y="590.1">Glycolysis/Gluconeogenesis</text>
<text x="240.3" y="603.8">Glutathione metabolism</text>
<text x="240.3" y="617.4">Cytosolic DNA-sensing pathway</text>
<text x="240.3" y="631.1">Amyotrophic lateral sclerosis (ALS)</text>
<text x="240.3" y="644.7">Pentose phosphate pathway</text>
<text x="240.3" y="658.4">Fructose and mannose metabolisom</text>
<text x="240.3" y="672.0">Galactose metabolism</text>
<text x="240.3" y="685.7">Other glycan degradation</text>
</g>
<g font-family="Liberation Sans, Arial, sans-serif" font-weight="bold" font-size="10" fill="#222" text-anchor="middle">
<text x="250.3" y="702.8">0.01</text>
<text x="291.1" y="702.8">0.02</text>
<text x="331.8" y="702.8">0.03</text>
<text x="372.6" y="702.8">0.04</text>
<text x="413.3" y="702.8">0.05</text>
</g>
<text font-family="Liberation Sans, Arial, sans-serif" font-weight="bold" font-size="13.2" fill="#111" text-anchor="middle" x="332" y="718.6">GeneRatio</text>
<defs><linearGradient id="padj" x1="0" y1="0" x2="0" y2="1"><stop offset="0" stop-color="#FF0000"/><stop offset="0.45" stop-color="#E00070"/><stop offset="0.75" stop-color="#A000C8"/><stop offset="1" stop-color="#3010FF"/></linearGradient></defs>
<text font-family="Liberation Sans, Arial, sans-serif" font-size="8.2" fill="#222" x="437.7" y="480.8">p.adjust</text>
<rect x="437.7" y="485" width="12.4" height="63.6" fill="url(#padj)"/>
<path d="M437.7 507.6h2.5M447.6 507.6h2.5M437.7 531h2.5M447.6 531h2.5" stroke="#fff" stroke-width="0.8"/>
<g font-family="Liberation Sans, Arial, sans-serif" font-size="6.6" fill="#333"><text x="454" y="510">0.1</text><text x="454" y="533.4">0.2</text></g>
<text font-family="Liberation Sans, Arial, sans-serif" font-size="8.2" fill="#222" x="437.7" y="571.8">Count</text>
<circle cx="445.2" cy="583.1" r="2.7" fill="#000"/>
<text font-family="Liberation Sans, Arial, sans-serif" font-size="6.6" fill="#333" x="457.4" y="585.4">4</text>
<circle cx="445.2" cy="595.7" r="4.4" fill="#000"/>
<text font-family="Liberation Sans, Arial, sans-serif" font-size="6.6" fill="#333" x="457.4" y="598.0">8</text>
<circle cx="445.2" cy="609.2" r="5.3" fill="#000"/>
<text font-family="Liberation Sans, Arial, sans-serif" font-size="6.6" fill="#333" x="457.4" y="611.5">12</text>
<circle cx="445.2" cy="623.7" r="6.2" fill="#000"/>
<text font-family="Liberation Sans, Arial, sans-serif" font-size="6.6" fill="#333" x="457.4" y="626.0">16</text>
<text font-family="Liberation Sans, Arial, sans-serif" font-weight="bold" font-size="20" fill="#111" x="39.2" y="396.5">c</text>
<rect x="504.4" y="420.70" width="14.45" height="15.08" fill="#FDE9EC"/>
<rect x="518.85" y="420.70" width="14.45" height="15.08" fill="#4252F2"/>
<rect x="504.4" y="435.48" width="14.45" height="15.08" fill="#F28484"/>
<rect x="518.85" y="435.48" width="14.45" height="15.08" fill="#B4BCF2"/>
<rect x="504.4" y="450.26" width="14.45" height="15.08" fill="#C4CAF2"/>
<rect x="518.85" y="450.26" width="14.45" height="15.08" fill="#1424F2"/>
<rect x="504.4" y="465.04" width="14.45" height="15.08" fill="#F02222"/>
<rect x="518.85" y="465.04" width="14.45" height="15.08" fill="#E2E3F8"/>
<rect x="504.4" y="479.82" width="14.45" height="15.08" fill="#F20505"/>
<rect x="518.85" y="479.82" width="14.45" height="15.08" fill="#F8CACA"/>
<rect x="504.4" y="494.60" width="14.45" height="15.08" fill="#A9B1F0"/>
<rect x="518.85" y="494.60" width="14.45" height="15.08" fill="#2232F2"/>
<rect x="504.4" y="509.38" width="14.45" height="15.08" fill="#F5A3A3"/>
<rect x="518.85" y="509.38" width="14.45" height="15.08" fill="#C2C8F2"/>
<rect x="504.4" y="524.16" width="14.45" height="15.08" fill="#CCD0F4"/>
<rect x="518.85" y="524.16" width="14.45" height="15.08" fill="#4454F2"/>
<rect x="504.4" y="538.94" width="14.45" height="15.08" fill="#FBD3D3"/>
<rect x="518.85" y="538.94" width="14.45" height="15.08" fill="#A9B1F2"/>
<rect x="504.4" y="553.72" width="14.45" height="15.08" fill="#8F98F2"/>
<rect x="518.85" y="553.72" width="14.45" height="15.08" fill="#3343F2"/>
<rect x="504.4" y="568.50" width="14.45" height="15.08" fill="#7583F2"/>
<rect x="518.85" y="568.50" width="14.45" height="15.08" fill="#2434F2"/>
<rect x="504.4" y="583.28" width="14.45" height="15.08" fill="#6070F2"/>
<rect x="518.85" y="583.28" width="14.45" height="15.08" fill="#1222F2"/>
<rect x="504.4" y="598.06" width="14.45" height="15.08" fill="#A8B0F4"/>
<rect x="518.85" y="598.06" width="14.45" height="15.08" fill="#5262F2"/>
<rect x="504.4" y="612.84" width="14.45" height="15.08" fill="#C8CCF8"/>
<rect x="518.85" y="612.84" width="14.45" height="15.08" fill="#7282F2"/>
<rect x="504.4" y="627.62" width="14.45" height="15.08" fill="#8A94F2"/>
<rect x="518.85" y="627.62" width="14.45" height="15.08" fill="#4454F2"/>
<rect x="504.4" y="642.40" width="14.45" height="15.08" fill="#3444F2"/>
<rect x="518.85" y="642.40" width="14.45" height="15.08" fill="#0A14F4"/>
<rect x="504.4" y="657.18" width="14.45" height="15.08" fill="#A2AAF2"/>
<rect x="518.85" y="657.18" width="14.45" height="15.08" fill="#5464F2"/>
<rect x="504.4" y="671.96" width="14.45" height="15.08" fill="#1626F2"/>
<rect x="518.85" y="671.96" width="14.45" height="15.08" fill="#0000F6"/>
<rect x="504.4" y="686.74" width="14.45" height="15.08" fill="#2232F2"/>
<rect x="518.85" y="686.74" width="14.45" height="15.08" fill="#0000F6"/>
<path d="M504.4 435.48h28.9M504.4 450.26h28.9M504.4 465.04h28.9M504.4 479.82h28.9M504.4 494.60h28.9M504.4 509.38h28.9M504.4 524.16h28.9M504.4 538.94h28.9M504.4 553.72h28.9M504.4 568.50h28.9M504.4 583.28h28.9M504.4 598.06h28.9M504.4 612.84h28.9M504.4 627.62h28.9M504.4 642.40h28.9M504.4 657.18h28.9M504.4 671.96h28.9M504.4 686.74h28.9M518.85 420.7v280.82" stroke="#ffffff" stroke-opacity="0.35" stroke-width="0.8"/>
<g font-family="Liberation Sans, Arial, sans-serif" font-weight="bold" font-size="10" fill="#1a1a1a">
<text x="536" y="431.7">Tcrg1</text>
<text x="536" y="446.5">Arsa</text>
<text x="536" y="461.2">Gla</text>
<text x="536" y="476.0">Ctss</text>
<text x="536" y="490.8">Fuca1</text>
<text x="536" y="505.6">Sumf1</text>
<text x="536" y="520.4">Ctsa</text>
<text x="536" y="535.1">Gba</text>
<text x="536" y="549.9">Atp6v0d1</text>
<text x="536" y="564.7">Gnptg</text>
<text x="536" y="579.5">Ap3d1</text>
<text x="536" y="594.3">Cln5</text>
<text x="536" y="609.0">Ids</text>
<text x="536" y="623.8">Man2b1</text>
<text x="536" y="638.6">Gm2a</text>
<text x="536" y="653.4">Dnase2a</text>
<text x="536" y="668.2">Smpd1</text>
<text x="536" y="683.0">Pla2g15</text>
<text x="536" y="697.7">Hyal1</text>
</g>
<defs><linearGradient id="hmg" x1="0" y1="0" x2="0" y2="1"><stop offset="0" stop-color="#F00000"/><stop offset="0.5" stop-color="#FFFFFF"/><stop offset="1" stop-color="#0000F0"/></linearGradient></defs>
<rect x="576" y="420.7" width="7.3" height="110.3" fill="url(#hmg)"/>
<g font-family="Liberation Sans, Arial, sans-serif" font-size="6.6" fill="#333">
<text x="586" y="426.7">0.8</text>
<text x="586" y="455.0">0.6</text>
<text x="586" y="483.3">0.4</text>
<text x="586" y="512.3">0.2</text>
</g>
<text font-family="Liberation Sans, Arial, sans-serif" font-weight="bold" font-size="13.1" fill="#111" text-anchor="middle" xml:space="preserve" style="white-space:pre" transform="translate(497 553.1) rotate(-90)">Genes enriched  to lysosomes</text>
<g font-family="Liberation Sans, Arial, sans-serif" font-weight="bold" font-size="10" fill="#1a1a1a" text-anchor="end">
<text transform="translate(515 706) rotate(-45)">SAH 24h</text>
<text transform="translate(529.5 706) rotate(-45)">Sham 24h</text>
</g>
<text font-family="Liberation Sans, Arial, sans-serif" font-weight="bold" font-size="20" fill="#111" x="466" y="418.8">d</text>
<path d="M652.7 633.8V608.7" stroke="#3AA3CF" stroke-width="2"/>
<path d="M669.2 571.0V545.9" stroke="#19C6D0" stroke-width="1.6"/>
<path d="M669.3 633.8V571.0" stroke="#3AA3CF" stroke-width="2"/>
<path d="M686.2 583.6V571.0" stroke="#C98BEA" stroke-width="1.4"/>
<path d="M686.0 633.8V583.6" stroke="#3AA3CF" stroke-width="2"/>
<path d="M702.6 633.8V583.6" stroke="#3AA3CF" stroke-width="2"/>
<path d="M719.4 583.6V545.9" stroke="#C98BEA" stroke-width="1.4"/>
<path d="M719.2 633.8V583.6" stroke="#3AA3CF" stroke-width="2"/>
<path d="M735.8 458.1V420.4" stroke="#19C6D0" stroke-width="1.6"/>
<path d="M735.9 633.8V458.1" stroke="#3AA3CF" stroke-width="2"/>
<path d="M752.7 545.9V483.2" stroke="#C98BEA" stroke-width="1.4"/>
<path d="M752.5 633.8V545.9" stroke="#3AA3CF" stroke-width="2"/>
<path d="M769.3 608.7V596.1" stroke="#C98BEA" stroke-width="1.4"/>
<path d="M769.1 633.8V608.7" stroke="#3AA3CF" stroke-width="2"/>
<path d="M785.9 558.5V495.7" stroke="#C98BEA" stroke-width="1.4"/>
<path d="M785.7 633.8V558.5" stroke="#3AA3CF" stroke-width="2"/>
<path d="M802.6 608.7V583.6" stroke="#C98BEA" stroke-width="1.4"/>
<path d="M802.4 633.8V608.7" stroke="#3AA3CF" stroke-width="2"/>
<path d="M819.2 571.0V533.4" stroke="#C98BEA" stroke-width="1.4"/>
<path d="M819.0 633.8V571.0" stroke="#3AA3CF" stroke-width="2"/>
<path d="M645.7 633.8H659.7M645.7 621.2H659.7M651.1 608.7h2.6M657.7 608.7h2.5M662.3 633.8H676.3M662.3 621.2H676.3M662.3 608.7H676.3M662.3 596.1H676.3M668.5 583.6h2.7M664.0 583.6h2.6M670.2 583.6h3.0M662.7 571.0h2.3M662.7 571.0h3.0M671.1 558.5h1.9M679.0 633.8H693.0M679.0 621.2H693.0M679.0 608.7H693.0M691.8 596.1h3.2M687.2 596.1h2.7M680.3 596.1h1.8M685.5 596.1h1.9M680.7 583.6h2.2M678.5 583.6h2.5M684.2 583.6h3.1M695.6 633.8H709.6M695.6 621.2H709.6M695.6 608.7H709.6M695.6 596.1H709.6M696.3 583.6H708.9M712.2 633.8H726.2M712.2 621.2H726.2M712.2 608.7H726.2M712.2 596.1H726.2M718.6 583.6h2.8M718.3 583.6h2.8M717.7 583.6h2.2M725.3 545.9h3.3M728.9 633.8H742.9M728.9 621.2H742.9M728.9 608.7H742.9M728.9 596.1H742.9M728.9 583.6H742.9M728.9 571.0H742.9M728.9 558.5H742.9M728.9 545.9H742.9M729.6 533.4H742.1M739.7 520.8h2.9M732.4 520.8h2.1M732.0 520.8h1.9M738.7 508.3h2.4M739.8 508.3h2.4M741.4 508.3h3.1M728.0 495.7h2.1M740.7 470.6h2.5M741.7 458.1h2.4M729.0 445.5h2.7M738.8 420.4h2.2M745.5 633.8H759.5M745.5 621.2H759.5M745.8 608.7h2.3M758.1 608.7h2.9M746.2 608.7h2.2M746.0 596.1h1.9M755.7 596.1h2.1M752.4 583.6h2.5M747.2 558.5h2.9M746.4 545.9h2.8M746.2 508.3h2.4M747.6 483.2h2.2M762.1 633.8H776.1M762.1 621.2H776.1M774.8 608.7h3.0M765.5 608.7h3.1M764.2 608.7h2.4M778.7 633.8H792.7M778.7 621.2H792.7M778.7 608.7H792.7M778.7 596.1H792.7M778.7 583.6H792.7M789.8 571.0h2.8M779.2 571.0h3.3M780.8 571.0h2.2M788.7 571.0h2.3M782.0 558.5h1.9M779.1 558.5h2.7M781.2 558.5h2.7M783.0 545.9h2.5M791.3 545.9h2.5M785.9 533.4h3.1M780.4 533.4h2.0M790.6 520.8h3.0M781.3 495.7h2.1M795.4 633.8H809.4M795.4 621.2H809.4M804.8 608.7h3.2M797.2 608.7h3.2M806.8 608.7h2.7M800.4 583.6h2.0M812.0 633.8H826.0M812.0 621.2H826.0M812.0 608.7H826.0M812.0 596.1H826.0M811.6 583.6h3.2M814.4 583.6h2.9M814.7 583.6h3.0M819.5 583.6h2.2M813.6 571.0h2.9M812.1 571.0h2.1M818.9 571.0h3.1M819.7 571.0h2.2M823.9 558.5h2.1M811.3 558.5h2.2M817.3 545.9h1.9M813.6 545.9h2.4M819.1 533.4h2.0" stroke="#111" stroke-width="1.6"/>
<path d="M643.2 410.6V643.5H828.7" stroke="#333" stroke-width="1.2" fill="none"/>
<path d="M640 633.8H643.2M640 571.0H643.2M640 508.3H643.2M640 445.5H643.2M652.7 643.5V646.5M669.3 643.5V646.5M686.0 643.5V646.5M702.6 643.5V646.5M719.2 643.5V646.5M735.9 643.5V646.5M752.5 643.5V646.5M769.1 643.5V646.5M785.7 643.5V646.5M802.4 643.5V646.5M819.0 643.5V646.5" stroke="#333" stroke-width="1"/>
<g font-family="Liberation Sans, Arial, sans-serif" font-weight="bold" font-size="13" fill="#111" text-anchor="end">
<text x="638.4" y="638.4">0</text>
<text x="638.4" y="575.6">5</text>
<text x="638.4" y="512.9">10</text>
<text x="638.4" y="450.1">15</text>
</g>
<g font-family="Liberation Sans, Arial, sans-serif" font-weight="bold" font-size="10.4" fill="#1a1a1a" text-anchor="end">
<text transform="translate(656.2 652) rotate(-45)">Arterial EC</text>
<text transform="translate(672.8 652) rotate(-45)">B cell</text>
<text transform="translate(689.5 652) rotate(-45)">Ceiling LEC</text>
<text transform="translate(706.1 652) rotate(-45)">Endothelial cell</text>
<text transform="translate(722.7 652) rotate(-45)">Fibroblastic reticular cell</text>
<text transform="translate(739.4 652) rotate(-45)">Floor LEC</text>
<text transform="translate(756.0 652) rotate(-45)">Granulocyte</text>
<text transform="translate(772.6 652) rotate(-45)">LEC</text>
<text transform="translate(789.2 652) rotate(-45)">Medullary LEC</text>
<text transform="translate(805.9 652) rotate(-45)">Mural cell</text>
<text transform="translate(822.5 652) rotate(-45)">Vein EC</text>
</g>
<text font-family="Liberation Sans, Arial, sans-serif" font-weight="bold" font-size="13.5" fill="#111" text-anchor="middle" transform="translate(621.4 525.8) rotate(-90)"><tspan font-style="italic">Ctss</tspan> Expression</text>
<rect x="793.3" y="431.4" width="12.2" height="12.2" fill="#C26EF0"/>
<rect x="793.3" y="444.9" width="12.2" height="12.6" fill="#14CCCC"/>
<path d="M799 437.6h0.5M799 450.9h0.5" stroke="#222" stroke-width="1"/>
<g font-family="Liberation Sans, Arial, sans-serif" font-weight="bold" font-size="10.2" fill="#1a1a1a"><text x="808" y="442.1">SAH 24h</text><text x="808" y="455.6">Sham 24h</text></g>
<text font-family="Liberation Sans, Arial, sans-serif" font-weight="bold" font-size="20" fill="#111" x="611" y="405.5">e</text>
<text font-family="Liberation Sans, Arial, sans-serif" font-weight="bold" font-size="16.8" x="126" y="757.5"><tspan fill="#1C3FC4">Lyve-1</tspan><tspan fill="#111">/</tspan><tspan fill="#139A3A">MARCO</tspan><tspan fill="#111">/</tspan><tspan fill="#D0202A">TER-119</tspan></text>
<text font-family="Liberation Sans, Arial, sans-serif" font-weight="bold" font-size="16.8" x="572.2" y="758"><tspan fill="#139A3A">Lyve-1</tspan><tspan fill="#111">/</tspan><tspan fill="#1C3FC4">ANXA2</tspan><tspan fill="#111">/</tspan><tspan fill="#D0202A">TER-119</tspan></text>
<text font-family="Liberation Sans, Arial, sans-serif" font-weight="bold" font-size="16.7" fill="#111" text-anchor="middle" transform="translate(45 837.3) rotate(-90)">Mandubular LN</text>
<text font-family="Liberation Sans, Arial, sans-serif" font-weight="bold" font-size="20" fill="#111" x="36.5" y="730.5">f</text>
<text font-family="Liberation Sans, Arial, sans-serif" font-weight="bold" font-size="20" fill="#111" x="453.3" y="753">g</text>
<clipPath id="cp1"><rect x="45.6" y="762.6" width="175.5" height="146.4"/></clipPath><g clip-path="url(#cp1)"><rect x="45.6" y="762.6" width="175.5" height="146.4" fill="#000"/><g filter="url(#soft)"><ellipse cx="95" cy="815" rx="55" ry="40" fill="#1020A8" opacity="0.8" filter="url(#g10)"/><ellipse cx="190" cy="840" rx="35" ry="55" fill="#1224B0" opacity="0.8" filter="url(#g10)"/><ellipse cx="60" cy="860" rx="20" ry="35" fill="#0e1e98" opacity="0.7" filter="url(#g8)"/><ellipse cx="135" cy="880" rx="30" ry="25" fill="#0a1488" opacity="0.5" filter="url(#g10)"/><ellipse cx="185" cy="895" rx="25" ry="12" fill="#0c1a90" opacity="0.6" filter="url(#g8)"/><ellipse cx="104" cy="840" rx="11" ry="9" fill="#2a50ff" opacity="0.95" filter="url(#g5)"/><ellipse cx="150" cy="850" rx="20" ry="15" fill="#1830c8" opacity="0.6" filter="url(#g8)"/><ellipse cx="70" cy="790" rx="25" ry="15" fill="#1838d0" opacity="0.7" filter="url(#g8)"/><ellipse cx="125" cy="800" rx="20" ry="15" fill="#1530c0" opacity="0.7" filter="url(#g6)"/><mask id="mk1" maskUnits="userSpaceOnUse" x="45.6" y="762.6" width="175.5" height="146.4"><rect x="45.6" y="762.6" width="175.5" height="146.4" fill="#000"/><ellipse cx="120" cy="835" rx="85" ry="60" fill="#fff" opacity="0.75" filter="url(#g10)"/></mask><g mask="url(#mk1)"><rect x="45.6" y="762.6" width="175.5" height="146.4" fill="#2a48f0" opacity="0.9" filter="url(#mot)"/></g><mask id="mk2" maskUnits="userSpaceOnUse" x="45.6" y="762.6" width="175.5" height="146.4"><rect x="45.6" y="762.6" width="175.5" height="146.4" fill="#000"/><ellipse cx="120" cy="830" rx="70" ry="50" fill="#fff" opacity="0.4" filter="url(#g10)"/></mask><g mask="url(#mk2)"><rect x="45.6" y="762.6" width="175.5" height="146.4" fill="#3050e8" opacity="1" filter="url(#nF)"/></g><mask id="mk3" maskUnits="userSpaceOnUse" x="45.6" y="762.6" width="175.5" height="146.4"><rect x="45.6" y="762.6" width="175.5" height="146.4" fill="#000"/><ellipse cx="75" cy="792" rx="34" ry="18" fill="#fff" opacity="0.95" filter="url(#g7)"/><ellipse cx="190" cy="805" rx="26" ry="20" fill="#fff" opacity="1" filter="url(#g6)"/><ellipse cx="56" cy="832" rx="12" ry="12" fill="#fff" opacity="0.8" filter="url(#g5)"/><ellipse cx="200" cy="840" rx="18" ry="16" fill="#fff" opacity="0.6" filter="url(#g7)"/><ellipse cx="125" cy="828" rx="20" ry="10" fill="#fff" opacity="0.35" filter="url(#g6)"/><ellipse cx="165" cy="790" rx="8" ry="6" fill="#fff" opacity="0.5" filter="url(#g3)"/></mask><g mask="url(#mk3)"><rect x="45.6" y="762.6" width="175.5" height="146.4" fill="#38D8E8" opacity="1" filter="url(#nA)"/></g><mask id="mk4" maskUnits="userSpaceOnUse" x="45.6" y="762.6" width="175.5" height="146.4"><rect x="45.6" y="762.6" width="175.5" height="146.4" fill="#000"/><ellipse cx="80" cy="788" rx="34" ry="14" fill="#fff" opacity="1" filter="url(#g5)"/><ellipse cx="188" cy="803" rx="22" ry="16" fill="#fff" opacity="1" filter="url(#g5)"/><ellipse cx="55" cy="835" rx="10" ry="10" fill="#fff" opacity="0.8" filter="url(#g4)"/></mask><g mask="url(#mk4)"><rect x="45.6" y="762.6" width="175.5" height="146.4" fill="#48F0F8" opacity="1" filter="url(#pA)"/></g><ellipse cx="185" cy="798" rx="14" ry="10" fill="#30C8E0" opacity="0.3" filter="url(#g6)"/><ellipse cx="70" cy="790" rx="20" ry="10" fill="#30B0D0" opacity="0.2" filter="url(#g6)"/><mask id="mk5" maskUnits="userSpaceOnUse" x="45.6" y="762.6" width="175.5" height="146.4"><rect x="45.6" y="762.6" width="175.5" height="146.4" fill="#000"/><ellipse cx="52" cy="870" rx="12" ry="28" fill="#fff" opacity="0.75" filter="url(#g7)"/><ellipse cx="190" cy="890" rx="26" ry="15" fill="#fff" opacity="0.8" filter="url(#g7)"/><ellipse cx="150" cy="800" rx="8" ry="8" fill="#fff" opacity="0.4" filter="url(#g3)"/></mask><g mask="url(#mk5)"><rect x="45.6" y="762.6" width="175.5" height="146.4" fill="#28C840" opacity="1" filter="url(#nE)"/></g><ellipse cx="68" cy="860" rx="5" ry="4" fill="#40F060" opacity="0.8" filter="url(#g2)"/><ellipse cx="52" cy="870" rx="8" ry="22" fill="#20A040" opacity="0.3" filter="url(#g6)"/><ellipse cx="200" cy="893" rx="20" ry="10" fill="#109030" opacity="0.25" filter="url(#g6)"/><ellipse cx="100" cy="880" rx="28" ry="30" fill="#000" opacity="0.97" filter="url(#g7)"/><ellipse cx="135" cy="898" rx="22" ry="12" fill="#000" opacity="0.85" filter="url(#g6)"/><ellipse cx="56" cy="818" rx="9" ry="7" fill="#000" opacity="0.9" filter="url(#g3)"/><ellipse cx="100" cy="804" rx="8" ry="8" fill="#000" opacity="0.9" filter="url(#g3)"/><ellipse cx="143" cy="830" rx="10" ry="9" fill="#000" opacity="0.75" filter="url(#g4)"/><ellipse cx="160" cy="868" rx="10" ry="14" fill="#000" opacity="0.7" filter="url(#g5)"/><ellipse cx="75" cy="845" rx="6" ry="6" fill="#000" opacity="0.8" filter="url(#g3)"/><ellipse cx="140" cy="858" rx="9" ry="9" fill="#000" opacity="0.6" filter="url(#g4)"/><ellipse cx="210" cy="860" rx="6" ry="10" fill="#000" opacity="0.6" filter="url(#g4)"/><ellipse cx="58" cy="902" rx="10" ry="8" fill="#000" opacity="0.8" filter="url(#g4)"/><ellipse cx="120" cy="812" rx="6" ry="5" fill="#000" opacity="0.7" filter="url(#g2)"/><ellipse cx="170" cy="840" rx="5" ry="6" fill="#000" opacity="0.6" filter="url(#g2)"/><ellipse cx="85" cy="825" rx="5" ry="5" fill="#000" opacity="0.7" filter="url(#g2)"/><ellipse cx="200" cy="826" rx="5" ry="4" fill="#000" opacity="0.6" filter="url(#g2)"/><ellipse cx="140" cy="805" rx="14" ry="8" fill="#000" opacity="0.5" filter="url(#g6)"/><ellipse cx="155" cy="825" rx="8" ry="8" fill="#000" opacity="0.5" filter="url(#g4)"/><ellipse cx="110" cy="900" rx="3" ry="2" fill="#E02020" opacity="0.7" filter="url(#g1)"/><path d="M40,760 230,760 230,796 220,794 194,786 174,782 160,786 154,788 138,780 124,772 104,769 84,771 74,775 44,773Z" fill="#000" filter="url(#g1_5)"/></g></g>
<clipPath id="cp2"><rect x="226" y="762.7" width="176" height="147"/></clipPath><g clip-path="url(#cp2)"><rect x="226" y="762.7" width="176" height="147" fill="#000"/><g filter="url(#soft)"><ellipse cx="272" cy="888" rx="45" ry="25" fill="#1226A8" opacity="0.85" filter="url(#g10)"/><ellipse cx="232" cy="830" rx="10" ry="35" fill="#1530c0" opacity="0.7" filter="url(#g7)"/><ellipse cx="350" cy="870" rx="15" ry="14" fill="#1838c8" opacity="0.7" filter="url(#g6)"/><ellipse cx="395" cy="845" rx="10" ry="25" fill="#1530b8" opacity="0.6" filter="url(#g6)"/><ellipse cx="300" cy="785" rx="50" ry="10" fill="#1838c8" opacity="0.5" filter="url(#g6)"/><ellipse cx="380" cy="790" rx="25" ry="8" fill="#1838c8" opacity="0.5" filter="url(#g5)"/><ellipse cx="330" cy="810" rx="20" ry="10" fill="#10208a" opacity="0.5" filter="url(#g6)"/><mask id="mk6" maskUnits="userSpaceOnUse" x="226" y="762.7" width="176" height="147"><rect x="226" y="762.7" width="176" height="147" fill="#000"/><ellipse cx="280" cy="885" rx="40" ry="22" fill="#fff" opacity="0.8" filter="url(#g7)"/><ellipse cx="240" cy="830" rx="12" ry="25" fill="#fff" opacity="0.5" filter="url(#g5)"/></mask><g mask="url(#mk6)"><rect x="226" y="762.7" width="176" height="147" fill="#2040d0" opacity="0.7" filter="url(#mot)"/></g><mask id="mk7" maskUnits="userSpaceOnUse" x="226" y="762.7" width="176" height="147"><rect x="226" y="762.7" width="176" height="147" fill="#000"/><ellipse cx="290" cy="800" rx="70" ry="25" fill="#fff" opacity="0.9" filter="url(#g8)"/><ellipse cx="245" cy="820" rx="22" ry="25" fill="#fff" opacity="1" filter="url(#g6)"/><ellipse cx="330" cy="848" rx="40" ry="16" fill="#fff" opacity="0.8" filter="url(#g6)"/><ellipse cx="385" cy="830" rx="16" ry="30" fill="#fff" opacity="0.7" filter="url(#g6)"/><ellipse cx="245" cy="885" rx="15" ry="12" fill="#fff" opacity="0.8" filter="url(#g5)"/><ellipse cx="350" cy="868" rx="16" ry="14" fill="#fff" opacity="0.9" filter="url(#g5)"/><ellipse cx="300" cy="862" rx="25" ry="10" fill="#fff" opacity="0.5" filter="url(#g6)"/><ellipse cx="370" cy="782" rx="30" ry="6" fill="#fff" opacity="1" filter="url(#g4)"/></mask><g mask="url(#mk7)"><rect x="226" y="762.7" width="176" height="147" fill="#58F4FF" opacity="1" filter="url(#pC)"/></g><mask id="mk8" maskUnits="userSpaceOnUse" x="226" y="762.7" width="176" height="147"><rect x="226" y="762.7" width="176" height="147" fill="#000"/><ellipse cx="270" cy="795" rx="45" ry="20" fill="#fff" opacity="0.9" filter="url(#g8)"/><ellipse cx="370" cy="785" rx="30" ry="8" fill="#fff" opacity="1" filter="url(#g4)"/><ellipse cx="250" cy="810" rx="22" ry="18" fill="#fff" opacity="1" filter="url(#g6)"/></mask><g mask="url(#mk8)"><rect x="226" y="762.7" width="176" height="147" fill="#40E0F0" opacity="1" filter="url(#pA)"/></g><mask id="mk9" maskUnits="userSpaceOnUse" x="226" y="762.7" width="176" height="147"><rect x="226" y="762.7" width="176" height="147" fill="#000"/><ellipse cx="245" cy="860" rx="15" ry="15" fill="#fff" opacity="0.7" filter="url(#g5)"/><ellipse cx="340" cy="900" rx="30" ry="10" fill="#fff" opacity="0.8" filter="url(#g5)"/><ellipse cx="300" cy="850" rx="20" ry="10" fill="#fff" opacity="0.4" filter="url(#g5)"/></mask><g mask="url(#mk9)"><rect x="226" y="762.7" width="176" height="147" fill="#30D060" opacity="1" filter="url(#pB)"/></g><ellipse cx="322" cy="802" rx="16" ry="10" fill="#901018" opacity="0.35" filter="url(#g5)"/><ellipse cx="382" cy="806" rx="18" ry="12" fill="#901018" opacity="0.35" filter="url(#g5)"/><ellipse cx="250" cy="835" rx="12" ry="9" fill="#901018" opacity="0.35" filter="url(#g4)"/><ellipse cx="285" cy="857" rx="18" ry="12" fill="#901018" opacity="0.35" filter="url(#g5)"/><ellipse cx="336" cy="845" rx="24" ry="13" fill="#901018" opacity="0.3" filter="url(#g5)"/><ellipse cx="370" cy="894" rx="32" ry="14" fill="#B01018" opacity="0.55" filter="url(#g5)"/><g fill="#9A1018" stroke="#FF2A34" stroke-width="1" opacity="0.9" filter="url(#g0_6)"><circle cx="337.8" cy="833.1" r="1.5"/><circle cx="365.5" cy="881.5" r="1.8"/><circle cx="314.9" cy="797.4" r="1.3"/><circle cx="291.3" cy="848.7" r="1.4"/><circle cx="365.7" cy="796.8" r="1.5"/><circle cx="356.0" cy="891.3" r="1.9"/><circle cx="393.5" cy="816.9" r="1.4"/><circle cx="323.2" cy="813.1" r="1.7"/><circle cx="378.4" cy="797.2" r="2.0"/><circle cx="360.3" cy="848.1" r="2.0"/><circle cx="247.6" cy="832.7" r="2.0"/><circle cx="290.3" cy="829.0" r="1.6"/><circle cx="313.3" cy="835.0" r="1.8"/><circle cx="357.7" cy="795.3" r="1.8"/><circle cx="323.9" cy="854.2" r="1.5"/><circle cx="389.2" cy="813.7" r="1.8"/><circle cx="280.0" cy="777.9" r="1.4"/><circle cx="292.0" cy="863.2" r="1.9"/><circle cx="384.2" cy="903.6" r="1.7"/><circle cx="254.6" cy="772.9" r="2.0"/><circle cx="384.2" cy="907.3" r="2.0"/><circle cx="310.3" cy="799.8" r="2.2"/><circle cx="231.0" cy="793.9" r="2.1"/><circle cx="366.0" cy="892.3" r="1.8"/><circle cx="301.0" cy="848.1" r="2.1"/><circle cx="330.5" cy="857.3" r="2.1"/><circle cx="328.8" cy="800.5" r="1.7"/><circle cx="394.7" cy="895.8" r="1.4"/><circle cx="242.7" cy="776.5" r="1.3"/><circle cx="378.7" cy="859.0" r="1.4"/><circle cx="320.8" cy="810.4" r="1.7"/><circle cx="264.7" cy="787.1" r="1.5"/><circle cx="292.5" cy="867.1" r="1.8"/><circle cx="360.4" cy="788.5" r="1.9"/><circle cx="270.5" cy="865.1" r="1.6"/><circle cx="396.2" cy="808.3" r="1.9"/><circle cx="318.5" cy="845.1" r="1.4"/><circle cx="369.4" cy="906.3" r="1.6"/><circle cx="339.5" cy="827.8" r="1.8"/><circle cx="302.4" cy="799.0" r="1.9"/><circle cx="306.3" cy="797.5" r="1.6"/><circle cx="352.2" cy="893.6" r="2.0"/><circle cx="343.6" cy="889.0" r="1.9"/><circle cx="387.3" cy="819.4" r="1.9"/><circle cx="371.2" cy="904.4" r="2.2"/><circle cx="251.6" cy="844.0" r="1.4"/><circle cx="349.9" cy="793.0" r="1.6"/><circle cx="345.9" cy="792.1" r="1.8"/><circle cx="302.9" cy="853.4" r="1.6"/><circle cx="368.6" cy="900.1" r="1.9"/><circle cx="242.6" cy="808.1" r="1.7"/><circle cx="383.4" cy="817.1" r="1.4"/><circle cx="365.3" cy="883.6" r="1.8"/><circle cx="374.5" cy="898.7" r="2.1"/><circle cx="335.2" cy="832.0" r="2.0"/><circle cx="336.4" cy="893.6" r="1.4"/><circle cx="237.9" cy="837.9" r="1.9"/><circle cx="341.0" cy="786.0" r="1.4"/><circle cx="297.9" cy="864.3" r="2.0"/><circle cx="371.6" cy="794.1" r="1.3"/><circle cx="336.6" cy="788.3" r="1.9"/><circle cx="375.8" cy="881.3" r="2.1"/><circle cx="345.6" cy="794.6" r="2.0"/><circle cx="385.9" cy="905.3" r="1.7"/><circle cx="391.8" cy="900.4" r="2.0"/><circle cx="334.0" cy="852.0" r="2.0"/><circle cx="339.8" cy="786.4" r="2.1"/><circle cx="356.2" cy="892.5" r="1.6"/><circle cx="257.4" cy="842.1" r="2.0"/><circle cx="343.1" cy="793.7" r="1.4"/><circle cx="247.6" cy="798.0" r="1.7"/><circle cx="292.5" cy="834.7" r="1.5"/><circle cx="320.7" cy="830.1" r="1.3"/><circle cx="354.6" cy="908.7" r="1.6"/><circle cx="342.9" cy="848.2" r="1.8"/><circle cx="336.6" cy="850.7" r="1.9"/><circle cx="363.6" cy="879.3" r="2.1"/><circle cx="280.2" cy="855.8" r="1.4"/><circle cx="372.3" cy="801.6" r="1.9"/><circle cx="262.4" cy="835.8" r="1.9"/><circle cx="264.3" cy="863.6" r="1.6"/><circle cx="260.0" cy="783.4" r="1.4"/><circle cx="353.6" cy="850.1" r="1.7"/><circle cx="291.8" cy="856.2" r="1.9"/><circle cx="306.1" cy="795.2" r="1.8"/><circle cx="366.6" cy="810.8" r="1.6"/><circle cx="258.9" cy="785.0" r="1.9"/><circle cx="375.1" cy="795.2" r="1.4"/><circle cx="297.3" cy="874.5" r="1.5"/><circle cx="349.1" cy="841.9" r="1.4"/><circle cx="268.7" cy="850.8" r="1.4"/><circle cx="386.8" cy="815.3" r="2.0"/><circle cx="395.8" cy="876.8" r="1.9"/><circle cx="286.0" cy="860.3" r="1.9"/><circle cx="294.5" cy="880.5" r="1.3"/><circle cx="276.6" cy="776.0" r="1.6"/><circle cx="303.9" cy="796.7" r="1.6"/><circle cx="347.6" cy="855.0" r="1.7"/><circle cx="260.9" cy="835.4" r="1.6"/><circle cx="285.3" cy="860.8" r="1.5"/><circle cx="340.5" cy="828.9" r="2.0"/><circle cx="275.3" cy="850.1" r="2.0"/><circle cx="347.7" cy="833.3" r="1.6"/><circle cx="382.9" cy="887.1" r="1.4"/><circle cx="344.9" cy="904.5" r="2.1"/><circle cx="295.6" cy="854.7" r="1.5"/><circle cx="365.0" cy="890.9" r="2.1"/><circle cx="370.9" cy="906.5" r="1.7"/><circle cx="349.5" cy="838.2" r="2.2"/><circle cx="342.9" cy="806.0" r="1.4"/><circle cx="306.0" cy="874.9" r="1.3"/><circle cx="315.8" cy="806.2" r="1.7"/><circle cx="294.9" cy="869.8" r="1.4"/><circle cx="287.4" cy="865.9" r="2.1"/><circle cx="398.4" cy="800.5" r="1.9"/><circle cx="281.0" cy="865.9" r="2.1"/><circle cx="390.8" cy="814.5" r="1.9"/><circle cx="370.1" cy="803.7" r="2.0"/><circle cx="367.4" cy="788.2" r="1.8"/><circle cx="365.3" cy="888.4" r="2.0"/><circle cx="395.8" cy="897.7" r="1.7"/><circle cx="398.8" cy="892.1" r="2.1"/><circle cx="255.4" cy="843.4" r="1.4"/><circle cx="290.0" cy="851.8" r="1.7"/><circle cx="303.6" cy="872.9" r="1.5"/><circle cx="265.6" cy="772.8" r="2.1"/><circle cx="254.1" cy="823.1" r="1.6"/><circle cx="239.9" cy="792.4" r="1.5"/><circle cx="337.4" cy="899.1" r="1.5"/><circle cx="378.3" cy="857.3" r="1.9"/><circle cx="246.4" cy="805.8" r="2.2"/><circle cx="261.8" cy="841.8" r="1.9"/><circle cx="315.8" cy="844.2" r="2.2"/><circle cx="301.7" cy="824.4" r="1.9"/><circle cx="389.9" cy="855.3" r="2.1"/><circle cx="312.5" cy="848.9" r="2.1"/><circle cx="345.5" cy="903.3" r="1.5"/><circle cx="366.2" cy="796.0" r="2.0"/><circle cx="339.3" cy="828.5" r="1.7"/><circle cx="395.5" cy="813.1" r="1.9"/><circle cx="262.0" cy="838.3" r="1.5"/><circle cx="340.9" cy="843.4" r="2.0"/><circle cx="358.3" cy="906.1" r="1.8"/><circle cx="313.7" cy="809.6" r="1.4"/><circle cx="296.1" cy="859.2" r="2.0"/><circle cx="360.0" cy="892.7" r="2.0"/><circle cx="298.4" cy="857.4" r="1.3"/><circle cx="301.1" cy="877.5" r="2.1"/><circle cx="241.9" cy="803.0" r="1.9"/><circle cx="385.7" cy="901.9" r="1.7"/><circle cx="365.1" cy="905.6" r="1.6"/><circle cx="363.7" cy="783.2" r="1.8"/><circle cx="389.6" cy="792.3" r="1.9"/><circle cx="316.4" cy="834.9" r="2.1"/><circle cx="358.4" cy="784.0" r="2.0"/><circle cx="275.5" cy="776.4" r="1.8"/><circle cx="388.2" cy="863.8" r="2.1"/><circle cx="291.8" cy="832.9" r="1.9"/><circle cx="323.1" cy="849.3" r="1.6"/><circle cx="386.2" cy="848.1" r="1.5"/><circle cx="352.6" cy="782.1" r="1.8"/><circle cx="365.1" cy="906.5" r="1.5"/><circle cx="365.7" cy="813.7" r="1.7"/><circle cx="364.0" cy="799.6" r="1.7"/><circle cx="337.5" cy="887.8" r="1.5"/><circle cx="343.1" cy="794.6" r="1.4"/><circle cx="338.7" cy="902.1" r="1.4"/><circle cx="319.3" cy="833.3" r="1.5"/><circle cx="339.3" cy="859.4" r="1.5"/><circle cx="388.2" cy="856.0" r="1.5"/><circle cx="391.7" cy="888.1" r="1.6"/><circle cx="394.1" cy="806.6" r="1.6"/><circle cx="286.0" cy="843.5" r="2.1"/><circle cx="337.9" cy="847.6" r="1.7"/><circle cx="339.7" cy="808.9" r="1.4"/><circle cx="302.7" cy="857.6" r="1.4"/><circle cx="233.5" cy="833.5" r="2.2"/><circle cx="284.8" cy="869.7" r="1.6"/><circle cx="302.8" cy="864.9" r="1.7"/><circle cx="397.6" cy="882.2" r="1.9"/><circle cx="312.3" cy="852.3" r="1.6"/><circle cx="292.6" cy="846.7" r="2.0"/><circle cx="291.8" cy="862.2" r="2.0"/><circle cx="279.3" cy="779.6" r="2.0"/><circle cx="238.7" cy="793.1" r="1.9"/><circle cx="346.7" cy="895.2" r="1.5"/><circle cx="363.4" cy="887.4" r="2.2"/><circle cx="325.6" cy="857.5" r="1.6"/><circle cx="363.4" cy="808.3" r="1.9"/><circle cx="295.7" cy="868.1" r="1.5"/><circle cx="324.4" cy="829.2" r="1.6"/><circle cx="339.1" cy="826.5" r="2.2"/><circle cx="338.1" cy="830.2" r="1.4"/><circle cx="287.6" cy="867.4" r="1.8"/><circle cx="360.0" cy="891.5" r="2.1"/><circle cx="252.9" cy="843.8" r="1.7"/><circle cx="331.6" cy="828.3" r="1.4"/><circle cx="289.5" cy="826.6" r="1.6"/><circle cx="290.2" cy="850.5" r="1.7"/><circle cx="237.0" cy="807.9" r="1.7"/><circle cx="299.1" cy="858.8" r="1.5"/><circle cx="322.8" cy="791.3" r="1.9"/><circle cx="320.9" cy="858.8" r="2.1"/><circle cx="365.9" cy="908.0" r="1.5"/><circle cx="290.5" cy="829.6" r="2.1"/><circle cx="394.0" cy="881.0" r="1.6"/><circle cx="246.9" cy="792.6" r="1.9"/><circle cx="333.8" cy="899.0" r="1.4"/><circle cx="332.9" cy="827.2" r="1.6"/><circle cx="393.0" cy="897.6" r="2.2"/><circle cx="371.9" cy="799.0" r="1.8"/><circle cx="395.6" cy="817.4" r="2.0"/><circle cx="298.3" cy="884.2" r="1.7"/><circle cx="266.2" cy="836.3" r="2.2"/><circle cx="398.6" cy="805.3" r="1.5"/><circle cx="284.3" cy="842.4" r="2.2"/><circle cx="251.5" cy="798.7" r="2.1"/><circle cx="274.7" cy="860.8" r="1.9"/><circle cx="359.6" cy="897.7" r="1.9"/><circle cx="335.0" cy="846.1" r="1.8"/><circle cx="265.0" cy="775.3" r="1.9"/><circle cx="300.4" cy="879.0" r="1.4"/><circle cx="322.1" cy="829.4" r="1.9"/><circle cx="243.5" cy="839.3" r="1.6"/><circle cx="342.0" cy="840.1" r="1.5"/><circle cx="367.1" cy="804.2" r="2.1"/><circle cx="332.9" cy="830.1" r="1.5"/><circle cx="376.7" cy="888.8" r="2.2"/><circle cx="383.5" cy="860.7" r="1.6"/><circle cx="332.2" cy="813.1" r="2.0"/><circle cx="387.5" cy="898.2" r="2.0"/><circle cx="306.5" cy="853.7" r="2.1"/><circle cx="307.0" cy="878.6" r="1.5"/><circle cx="381.2" cy="884.4" r="1.6"/><circle cx="238.4" cy="799.8" r="1.5"/><circle cx="244.1" cy="832.5" r="2.0"/><circle cx="365.7" cy="845.7" r="1.5"/><circle cx="370.1" cy="904.2" r="1.3"/><circle cx="236.3" cy="836.6" r="1.3"/><circle cx="395.4" cy="805.6" r="1.8"/><circle cx="360.7" cy="785.4" r="1.7"/><circle cx="353.9" cy="831.5" r="1.5"/><circle cx="377.2" cy="815.3" r="2.1"/><circle cx="393.5" cy="855.0" r="1.7"/><circle cx="370.7" cy="795.4" r="1.4"/><circle cx="392.2" cy="802.5" r="2.0"/><circle cx="395.1" cy="901.1" r="1.4"/><circle cx="243.1" cy="778.0" r="1.4"/><circle cx="291.9" cy="851.6" r="1.9"/><circle cx="303.5" cy="838.4" r="2.1"/><circle cx="229.7" cy="802.0" r="1.3"/><circle cx="355.6" cy="794.8" r="1.9"/><circle cx="257.7" cy="823.6" r="2.0"/><circle cx="249.3" cy="822.4" r="2.1"/><circle cx="289.0" cy="832.7" r="2.0"/><circle cx="386.5" cy="886.9" r="1.7"/><circle cx="237.6" cy="829.4" r="1.7"/><circle cx="400.2" cy="861.2" r="2.1"/><circle cx="261.3" cy="827.1" r="1.9"/><circle cx="380.8" cy="883.3" r="1.8"/><circle cx="394.1" cy="801.5" r="1.8"/><circle cx="347.1" cy="893.5" r="1.8"/><circle cx="317.4" cy="810.4" r="1.7"/><circle cx="337.3" cy="889.4" r="1.8"/><circle cx="351.2" cy="785.9" r="1.7"/><circle cx="354.7" cy="791.7" r="1.9"/><circle cx="372.1" cy="897.4" r="2.0"/><circle cx="391.8" cy="880.8" r="1.7"/><circle cx="236.6" cy="787.3" r="1.3"/><circle cx="388.9" cy="881.4" r="2.1"/><circle cx="257.3" cy="775.3" r="1.7"/><circle cx="367.5" cy="879.7" r="1.8"/><circle cx="331.4" cy="835.9" r="1.6"/><circle cx="337.6" cy="889.4" r="1.7"/><circle cx="350.4" cy="787.6" r="2.1"/><circle cx="326.5" cy="790.8" r="1.9"/><circle cx="281.0" cy="867.2" r="2.2"/><circle cx="395.1" cy="808.2" r="1.7"/><circle cx="322.1" cy="805.0" r="1.7"/><circle cx="258.6" cy="772.2" r="1.9"/><circle cx="358.6" cy="903.4" r="2.1"/><circle cx="318.8" cy="795.0" r="2.0"/><circle cx="264.3" cy="772.9" r="1.6"/><circle cx="356.0" cy="855.7" r="1.7"/><circle cx="248.1" cy="788.0" r="1.8"/><circle cx="313.0" cy="842.5" r="2.0"/><circle cx="269.9" cy="788.5" r="1.9"/><circle cx="265.7" cy="856.5" r="1.5"/><circle cx="249.8" cy="779.1" r="2.2"/><circle cx="261.2" cy="837.4" r="1.7"/><circle cx="318.4" cy="858.0" r="1.4"/><circle cx="291.2" cy="867.5" r="1.8"/><circle cx="321.0" cy="857.8" r="1.8"/><circle cx="331.0" cy="798.2" r="1.7"/><circle cx="371.4" cy="790.6" r="1.7"/><circle cx="383.9" cy="860.2" r="1.5"/><circle cx="275.6" cy="863.8" r="1.7"/><circle cx="235.0" cy="828.9" r="1.5"/><circle cx="238.9" cy="801.8" r="2.2"/><circle cx="325.2" cy="801.0" r="2.1"/><circle cx="361.7" cy="885.5" r="2.1"/><circle cx="264.4" cy="779.0" r="1.7"/><circle cx="363.1" cy="884.4" r="1.4"/><circle cx="401.3" cy="801.6" r="1.8"/><circle cx="243.5" cy="784.1" r="1.7"/><circle cx="359.0" cy="847.5" r="1.6"/><circle cx="389.7" cy="871.9" r="2.1"/><circle cx="258.4" cy="831.2" r="1.4"/><circle cx="239.4" cy="780.2" r="1.3"/><circle cx="385.2" cy="819.3" r="2.1"/><circle cx="363.1" cy="850.9" r="1.8"/><circle cx="318.0" cy="839.0" r="1.7"/><circle cx="243.4" cy="845.4" r="1.5"/><circle cx="361.9" cy="896.4" r="1.4"/><circle cx="380.3" cy="900.5" r="1.4"/><circle cx="240.3" cy="830.9" r="1.3"/><circle cx="248.0" cy="837.8" r="1.5"/><circle cx="331.7" cy="793.3" r="1.9"/><circle cx="346.5" cy="898.3" r="2.2"/><circle cx="335.6" cy="844.1" r="1.3"/><circle cx="246.1" cy="835.6" r="1.7"/><circle cx="253.3" cy="777.6" r="1.5"/><circle cx="381.2" cy="820.1" r="2.2"/><circle cx="298.9" cy="855.4" r="2.0"/><circle cx="348.2" cy="796.1" r="1.5"/><circle cx="321.6" cy="844.2" r="1.3"/><circle cx="341.8" cy="904.3" r="1.9"/><circle cx="358.8" cy="907.6" r="1.7"/><circle cx="358.1" cy="841.8" r="1.7"/><circle cx="367.4" cy="900.9" r="1.6"/></g><ellipse cx="272" cy="776" rx="14" ry="6" fill="#FF1080" opacity="0.5" filter="url(#g4)"/><ellipse cx="378" cy="895" rx="16" ry="12" fill="#FF0A14" opacity="0.5" filter="url(#g5)"/><ellipse cx="240" cy="818" rx="10" ry="8" fill="#000" opacity="0.95" filter="url(#g3)"/><ellipse cx="279" cy="836" rx="12" ry="14" fill="#000" opacity="0.95" filter="url(#g4)"/><ellipse cx="306" cy="868" rx="13" ry="11" fill="#000" opacity="0.9" filter="url(#g4)"/><ellipse cx="232" cy="900" rx="8" ry="12" fill="#000" opacity="0.9" filter="url(#g4)"/><ellipse cx="355" cy="815" rx="8" ry="6" fill="#000" opacity="0.8" filter="url(#g3)"/><ellipse cx="290" cy="800" rx="7" ry="6" fill="#000" opacity="0.7" filter="url(#g3)"/><ellipse cx="265" cy="900" rx="10" ry="8" fill="#000" opacity="0.4" filter="url(#g5)"/><ellipse cx="320" cy="885" rx="6" ry="5" fill="#000" opacity="0.7" filter="url(#g2)"/><ellipse cx="395" cy="875" rx="6" ry="5" fill="#000" opacity="0.6" filter="url(#g2)"/><ellipse cx="318" cy="790" rx="6" ry="4" fill="#000" opacity="0.7" filter="url(#g2)"/><ellipse cx="345" cy="800" rx="6" ry="5" fill="#000" opacity="0.7" filter="url(#g2)"/><ellipse cx="372" cy="840" rx="6" ry="6" fill="#000" opacity="0.7" filter="url(#g2)"/><ellipse cx="262" cy="860" rx="6" ry="5" fill="#000" opacity="0.7" filter="url(#g2)"/><ellipse cx="281" cy="896" rx="4" ry="4" fill="#30FF50" opacity="1" filter="url(#g1_5)"/><ellipse cx="316" cy="826.5" rx="2.2" ry="2.2" fill="#30FF50" opacity="0.9" filter="url(#g1)"/><path d="M220,760 410,760 410,786 402,785.5 363,779.6 333.5,774 304,770 265,768 226,774 220,774Z" fill="#000" filter="url(#g1_5)"/></g></g>
<clipPath id="cp3"><rect x="480.2" y="764" width="182" height="146.4"/></clipPath><g clip-path="url(#cp3)"><rect x="480.2" y="764" width="182" height="146.4" fill="#000"/><g filter="url(#soft)"><ellipse cx="520" cy="830" rx="40" ry="40" fill="#0c5a18" opacity="0.45" filter="url(#g14)"/><ellipse cx="610" cy="880" rx="40" ry="25" fill="#0c5a18" opacity="0.4" filter="url(#g12)"/><ellipse cx="510" cy="885" rx="30" ry="25" fill="#108020" opacity="0.7" filter="url(#g10)"/><ellipse cx="530" cy="800" rx="30" ry="20" fill="#0c6a18" opacity="0.5" filter="url(#g10)"/><ellipse cx="574" cy="856" rx="30" ry="32" fill="#060a3c" opacity="1" filter="url(#g2)"/><ellipse cx="553" cy="800" rx="13" ry="12" fill="#1428a0" opacity="0.95" filter="url(#g2)"/><ellipse cx="528" cy="858" rx="9" ry="22" fill="#3060d0" opacity="0.85" filter="url(#g6)" transform="rotate(-30 528 858)"/><ellipse cx="642" cy="840" rx="20" ry="25" fill="#1a48a8" opacity="0.75" filter="url(#g7)"/><ellipse cx="486" cy="828" rx="8" ry="14" fill="#1428a0" opacity="0.8" filter="url(#g4)"/><ellipse cx="596" cy="900" rx="18" ry="8" fill="#1830b0" opacity="0.7" filter="url(#g5)"/><ellipse cx="600" cy="785" rx="40" ry="8" fill="#1838c8" opacity="0.6" filter="url(#g5)"/><ellipse cx="490" cy="897" rx="12" ry="14" fill="#30C8D0" opacity="0.8" filter="url(#g6)"/><ellipse cx="528" cy="903" rx="12" ry="8" fill="#30FF50" opacity="0.75" filter="url(#g5)"/><mask id="mk10" maskUnits="userSpaceOnUse" x="480.2" y="764" width="182" height="146.4"><rect x="480.2" y="764" width="182" height="146.4" fill="#000"/><ellipse cx="574" cy="856" rx="26" ry="28" fill="#fff" opacity="0.6" filter="url(#g3)"/></mask><g mask="url(#mk10)"><rect x="480.2" y="764" width="182" height="146.4" fill="#1a2aa0" opacity="0.5" filter="url(#mot)"/></g><ellipse cx="565" cy="845" rx="3" ry="3" fill="#2850ff" opacity="0.7" filter="url(#g2)"/><ellipse cx="585" cy="868" rx="3" ry="3" fill="#2850ff" opacity="0.6" filter="url(#g2)"/><ellipse cx="570" cy="880" rx="2.5" ry="2.5" fill="#2850ff" opacity="0.6" filter="url(#g2)"/><ellipse cx="548" cy="805" rx="3" ry="2.5" fill="#3060ff" opacity="0.9" filter="url(#g1)"/><ellipse cx="558" cy="802" rx="3" ry="2.5" fill="#3060ff" opacity="0.9" filter="url(#g1)"/><ellipse cx="522" cy="872" rx="4" ry="3" fill="#3060ff" opacity="0.8" filter="url(#g2)"/><ellipse cx="510" cy="845" rx="3" ry="3" fill="#3060ff" opacity="0.8" filter="url(#g2)"/><mask id="mk11" maskUnits="userSpaceOnUse" x="480.2" y="764" width="182" height="146.4"><rect x="480.2" y="764" width="182" height="146.4" fill="#000"/><ellipse cx="570" cy="840" rx="100" ry="80" fill="#fff" opacity="1" filter="url(#g10)"/><ellipse cx="574" cy="856" rx="28" ry="30" fill="#000" opacity="1" filter="url(#g3)"/><ellipse cx="553" cy="800" rx="10" ry="10" fill="#000" opacity="0.7" filter="url(#g2)"/><ellipse cx="528" cy="858" rx="7" ry="18" fill="#000" opacity="0.5" filter="url(#g4)"/></mask><g mask="url(#mk11)"><rect x="480.2" y="764" width="182" height="146.4" fill="#30E848" opacity="1" filter="url(#nG)"/></g><mask id="mk12" maskUnits="userSpaceOnUse" x="480.2" y="764" width="182" height="146.4"><rect x="480.2" y="764" width="182" height="146.4" fill="#000"/><ellipse cx="570" cy="840" rx="100" ry="80" fill="#fff" opacity="1" filter="url(#g10)"/><ellipse cx="574" cy="856" rx="28" ry="30" fill="#000" opacity="1" filter="url(#g3)"/></mask><g mask="url(#mk12)"><rect x="480.2" y="764" width="182" height="146.4" fill="#40F058" opacity="1" filter="url(#pD)"/></g><mask id="mk13" maskUnits="userSpaceOnUse" x="480.2" y="764" width="182" height="146.4"><rect x="480.2" y="764" width="182" height="146.4" fill="#000"/><ellipse cx="520" cy="840" rx="50" ry="60" fill="#fff" opacity="0.35" filter="url(#g10)"/><ellipse cx="620" cy="880" rx="40" ry="30" fill="#fff" opacity="0.3" filter="url(#g10)"/><ellipse cx="574" cy="856" rx="30" ry="32" fill="#000" opacity="1" filter="url(#g3)"/></mask><g mask="url(#mk13)"><rect x="480.2" y="764" width="182" height="146.4" fill="#20B030" opacity="1" filter="url(#mot)"/></g><ellipse cx="574" cy="856" rx="31" ry="33" fill="none" stroke="#30E040" stroke-width="1.2" filter="url(#g0_6)"/><ellipse cx="553" cy="800" rx="13.5" ry="12" fill="none" stroke="#30D040" stroke-width="1" filter="url(#g0_6)"/><ellipse cx="492" cy="814" rx="6" ry="6" fill="#000" opacity="0.9" filter="url(#g1_5)"/><ellipse cx="506" cy="798" rx="5" ry="4" fill="#000" opacity="0.85" filter="url(#g1_5)"/><ellipse cx="540.7" cy="820.6" rx="7" ry="9" fill="#000" opacity="0.95" filter="url(#g1_5)"/><ellipse cx="502" cy="867" rx="8" ry="7" fill="#000" opacity="0.95" filter="url(#g1_5)"/><ellipse cx="484" cy="841" rx="4" ry="6" fill="#000" opacity="0.85" filter="url(#g1_5)"/><ellipse cx="611.5" cy="830.7" rx="7" ry="14" fill="#000" opacity="0.95" filter="url(#g1_5)"/><ellipse cx="627.6" cy="877" rx="5" ry="9" fill="#000" opacity="0.9" filter="url(#g1_5)"/><ellipse cx="518.4" cy="897.5" rx="5" ry="5" fill="#000" opacity="0.85" filter="url(#g1_5)"/><ellipse cx="567" cy="903.5" rx="5" ry="4" fill="#000" opacity="0.85" filter="url(#g1_5)"/><ellipse cx="658" cy="822.6" rx="4" ry="5" fill="#000" opacity="0.85" filter="url(#g1_5)"/><ellipse cx="591" cy="798" rx="5" ry="4" fill="#000" opacity="0.85" filter="url(#g1_5)"/><ellipse cx="600" cy="885" rx="5" ry="4" fill="#000" opacity="0.8" filter="url(#g1_5)"/><ellipse cx="520" cy="815" rx="4" ry="3" fill="#000" opacity="0.85" filter="url(#g1)"/><ellipse cx="497" cy="850" rx="3" ry="4" fill="#000" opacity="0.85" filter="url(#g1)"/><ellipse cx="545" cy="883" rx="3" ry="3" fill="#000" opacity="0.8" filter="url(#g1)"/><ellipse cx="625" cy="810" rx="4" ry="3" fill="#000" opacity="0.8" filter="url(#g1)"/><ellipse cx="650" cy="880" rx="3" ry="5" fill="#000" opacity="0.8" filter="url(#g1)"/><ellipse cx="535" cy="840" rx="3" ry="3" fill="#000" opacity="0.8" filter="url(#g1)"/><ellipse cx="610" cy="905" rx="4" ry="3" fill="#000" opacity="0.85" filter="url(#g1)"/><ellipse cx="498" cy="875" rx="4" ry="3" fill="#000" opacity="0.8" filter="url(#g1)"/><ellipse cx="548" cy="812" rx="3" ry="4" fill="#000" opacity="0.8" filter="url(#g1)"/><ellipse cx="620" cy="850" rx="3" ry="4" fill="#000" opacity="0.8" filter="url(#g1)"/><ellipse cx="512" cy="805" rx="3" ry="3" fill="#000" opacity="0.8" filter="url(#g1)"/><ellipse cx="531" cy="859" rx="9" ry="23" fill="#3a78e0" opacity="0.6" filter="url(#g4)" transform="rotate(-36 531 859)"/><ellipse cx="488" cy="897" rx="10" ry="10" fill="#40E0D0" opacity="0.6" filter="url(#g4)"/><ellipse cx="525" cy="902" rx="14" ry="8" fill="#40FF50" opacity="0.6" filter="url(#g4)"/><path d="M475,760 670,760 670,806 662,804.4 652,802.4 631.7,794 611.5,782 581,774 551,776 520,776 480,782 475,782Z" fill="#000" filter="url(#g1_5)"/><path d="M480 783 520 777 551 777 581 775 611 783 632 795 662 805" fill="none" stroke="#2040d0" stroke-width="3" filter="url(#g1_5)"/></g></g>
<clipPath id="cp4"><rect x="666.7" y="764" width="181.8" height="146.1"/></clipPath><g clip-path="url(#cp4)"><rect x="666.7" y="764" width="181.8" height="146.1" fill="#000"/><g filter="url(#soft)"><ellipse cx="756" cy="859" rx="17" ry="19" fill="#3070e0" opacity="1" filter="url(#g5)"/><ellipse cx="672" cy="890" rx="10" ry="22" fill="#2048d0" opacity="0.9" filter="url(#g5)"/><ellipse cx="705" cy="903" rx="22" ry="8" fill="#2a70c8" opacity="0.8" filter="url(#g5)"/><ellipse cx="841" cy="840" rx="9" ry="16" fill="#1e50c0" opacity="0.85" filter="url(#g5)"/><ellipse cx="770" cy="788" rx="80" ry="8" fill="#2048c8" opacity="0.8" filter="url(#g5)"/><ellipse cx="822" cy="795" rx="28" ry="10" fill="#2a70d0" opacity="0.85" filter="url(#g5)"/><ellipse cx="790" cy="897" rx="6" ry="5" fill="#3050ff" opacity="0.8" filter="url(#g2)"/><ellipse cx="700" cy="800" rx="30" ry="8" fill="#30A070" opacity="0.5" filter="url(#g5)"/><mask id="mk14" maskUnits="userSpaceOnUse" x="666.7" y="764" width="181.8" height="146.1"><rect x="666.7" y="764" width="181.8" height="146.1" fill="#000"/><ellipse cx="756" cy="859" rx="18" ry="20" fill="#fff" opacity="0.7" filter="url(#g5)"/><ellipse cx="690" cy="900" rx="25" ry="12" fill="#fff" opacity="0.6" filter="url(#g5)"/></mask><g mask="url(#mk14)"><rect x="666.7" y="764" width="181.8" height="146.1" fill="#2a60e0" opacity="0.8" filter="url(#mot)"/></g><mask id="mk15" maskUnits="userSpaceOnUse" x="666.7" y="764" width="181.8" height="146.1"><rect x="666.7" y="764" width="181.8" height="146.1" fill="#000"/><ellipse cx="715" cy="850" rx="50" ry="60" fill="#fff" opacity="0.85" filter="url(#g10)"/><ellipse cx="790" cy="860" rx="30" ry="40" fill="#fff" opacity="0.7" filter="url(#g8)"/><ellipse cx="740" cy="800" rx="70" ry="10" fill="#fff" opacity="1" filter="url(#g6)"/><ellipse cx="765" cy="853" rx="16" ry="18" fill="#000" opacity="0.5" filter="url(#g5)"/></mask><g mask="url(#mk15)"><rect x="666.7" y="764" width="181.8" height="146.1" fill="#30D848" opacity="1" filter="url(#pD)"/></g><mask id="mk16" maskUnits="userSpaceOnUse" x="666.7" y="764" width="181.8" height="146.1"><rect x="666.7" y="764" width="181.8" height="146.1" fill="#000"/><ellipse cx="700" cy="850" rx="35" ry="45" fill="#fff" opacity="0.9" filter="url(#g8)"/><ellipse cx="790" cy="880" rx="40" ry="20" fill="#fff" opacity="0.8" filter="url(#g6)"/><ellipse cx="720" cy="800" rx="40" ry="10" fill="#fff" opacity="0.8" filter="url(#g5)"/><ellipse cx="760" cy="840" rx="12" ry="10" fill="#fff" opacity="0.8" filter="url(#g4)"/></mask><g mask="url(#mk16)"><rect x="666.7" y="764" width="181.8" height="146.1" fill="#30E050" opacity="1" filter="url(#pB)"/></g><mask id="mk17" maskUnits="userSpaceOnUse" x="666.7" y="764" width="181.8" height="146.1"><rect x="666.7" y="764" width="181.8" height="146.1" fill="#000"/><ellipse cx="780" cy="792" rx="70" ry="10" fill="#fff" opacity="0.9" filter="url(#g5)"/><ellipse cx="756" cy="859" rx="18" ry="20" fill="#fff" opacity="0.7" filter="url(#g6)"/><ellipse cx="840" cy="830" rx="10" ry="20" fill="#fff" opacity="0.6" filter="url(#g5)"/></mask><g mask="url(#mk17)"><rect x="666.7" y="764" width="181.8" height="146.1" fill="#40B8E8" opacity="1" filter="url(#pA)"/></g><ellipse cx="700" cy="835" rx="25" ry="25" fill="#801010" opacity="0.3" filter="url(#g8)"/><ellipse cx="790" cy="835" rx="30" ry="30" fill="#801010" opacity="0.3" filter="url(#g8)"/><ellipse cx="790" cy="893" rx="35" ry="12" fill="#801010" opacity="0.3" filter="url(#g6)"/><mask id="mk18" maskUnits="userSpaceOnUse" x="666.7" y="764" width="181.8" height="146.1"><rect x="666.7" y="764" width="181.8" height="146.1" fill="#000"/><ellipse cx="700" cy="870" rx="35" ry="40" fill="#fff" opacity="0.9" filter="url(#g8)"/><ellipse cx="760" cy="830" rx="20" ry="20" fill="#fff" opacity="0.7" filter="url(#g6)"/><ellipse cx="700" cy="800" rx="30" ry="8" fill="#fff" opacity="0.7" filter="url(#g4)"/></mask><g mask="url(#mk18)"><rect x="666.7" y="764" width="181.8" height="146.1" fill="#38F050" opacity="1" filter="url(#nB)"/></g><ellipse cx="695" cy="885" rx="20" ry="14" fill="#20A040" opacity="0.35" filter="url(#g8)"/><g fill="#A81010" stroke="#FF2A18" stroke-width="1.1" filter="url(#g0_6)"><circle cx="770.4" cy="856.4" r="2.2"/><circle cx="717.1" cy="859.2" r="2.3"/><circle cx="785.2" cy="854.2" r="2.0"/><circle cx="782.3" cy="808.0" r="1.8"/><circle cx="744.2" cy="887.7" r="2.3"/><circle cx="725.2" cy="799.5" r="1.7"/><circle cx="722.0" cy="821.6" r="1.7"/><circle cx="731.8" cy="842.7" r="2.2"/><circle cx="765.3" cy="828.8" r="1.8"/><circle cx="828.3" cy="866.6" r="1.6"/><circle cx="758.9" cy="802.1" r="2.3"/><circle cx="812.7" cy="811.5" r="1.6"/><circle cx="779.8" cy="805.8" r="2.1"/><circle cx="805.0" cy="905.1" r="2.2"/><circle cx="745.6" cy="882.3" r="2.3"/><circle cx="773.4" cy="838.7" r="2.3"/><circle cx="715.9" cy="849.2" r="2.0"/><circle cx="687.2" cy="817.5" r="2.2"/><circle cx="801.4" cy="890.7" r="2.4"/><circle cx="803.9" cy="886.1" r="1.5"/><circle cx="779.2" cy="811.7" r="1.6"/><circle cx="727.1" cy="813.5" r="1.9"/><circle cx="812.1" cy="843.6" r="1.9"/><circle cx="782.9" cy="798.3" r="1.5"/><circle cx="732.4" cy="800.9" r="1.8"/><circle cx="718.0" cy="869.9" r="1.7"/><circle cx="784.0" cy="903.7" r="1.8"/><circle cx="709.9" cy="880.1" r="2.0"/><circle cx="810.2" cy="820.4" r="2.3"/><circle cx="814.4" cy="805.5" r="2.2"/><circle cx="831.7" cy="855.6" r="1.7"/><circle cx="788.2" cy="902.9" r="2.2"/><circle cx="736.5" cy="833.6" r="1.7"/><circle cx="743.9" cy="874.8" r="1.6"/><circle cx="691.3" cy="840.3" r="2.3"/><circle cx="763.2" cy="819.9" r="2.0"/><circle cx="723.2" cy="842.9" r="2.0"/><circle cx="718.2" cy="831.0" r="2.3"/><circle cx="709.6" cy="801.1" r="1.8"/><circle cx="817.0" cy="899.7" r="2.3"/><circle cx="748.6" cy="884.3" r="1.7"/><circle cx="776.1" cy="891.3" r="2.3"/><circle cx="766.2" cy="805.0" r="2.2"/><circle cx="784.9" cy="854.8" r="2.2"/><circle cx="726.4" cy="859.0" r="1.8"/><circle cx="810.1" cy="895.5" r="1.5"/><circle cx="742.6" cy="810.3" r="2.3"/><circle cx="731.4" cy="801.2" r="1.7"/><circle cx="788.6" cy="801.9" r="2.4"/><circle cx="681.0" cy="827.1" r="1.8"/><circle cx="734.4" cy="808.0" r="1.8"/><circle cx="725.9" cy="850.0" r="1.8"/><circle cx="780.4" cy="806.2" r="1.6"/><circle cx="701.5" cy="813.2" r="2.2"/><circle cx="803.9" cy="814.7" r="2.3"/><circle cx="801.8" cy="897.4" r="2.2"/><circle cx="766.6" cy="822.4" r="2.1"/><circle cx="784.6" cy="853.3" r="2.1"/><circle cx="802.2" cy="900.9" r="2.1"/><circle cx="735.8" cy="881.2" r="1.8"/><circle cx="817.3" cy="892.4" r="2.3"/><circle cx="757.3" cy="806.2" r="2.1"/><circle cx="705.0" cy="874.6" r="2.3"/><circle cx="704.7" cy="843.9" r="2.2"/><circle cx="732.1" cy="819.2" r="2.0"/><circle cx="730.5" cy="859.9" r="1.7"/><circle cx="785.0" cy="824.0" r="2.2"/><circle cx="796.7" cy="883.3" r="2.0"/><circle cx="713.2" cy="817.3" r="2.3"/><circle cx="809.0" cy="836.0" r="1.6"/><circle cx="739.5" cy="882.4" r="2.2"/><circle cx="735.9" cy="866.6" r="2.2"/><circle cx="735.4" cy="854.4" r="1.6"/><circle cx="722.7" cy="818.2" r="1.7"/><circle cx="811.8" cy="902.2" r="1.7"/><circle cx="783.4" cy="845.6" r="2.2"/><circle cx="822.4" cy="883.9" r="2.1"/><circle cx="832.1" cy="892.4" r="2.3"/><circle cx="807.4" cy="828.4" r="1.8"/><circle cx="755.1" cy="892.9" r="2.1"/><circle cx="690.8" cy="826.8" r="2.4"/><circle cx="802.9" cy="801.7" r="2.4"/><circle cx="809.3" cy="849.4" r="2.2"/><circle cx="681.2" cy="834.1" r="2.2"/><circle cx="726.6" cy="830.4" r="1.9"/><circle cx="762.6" cy="895.2" r="2.3"/><circle cx="751.3" cy="877.6" r="1.9"/><circle cx="742.1" cy="871.3" r="1.8"/><circle cx="791.2" cy="895.8" r="1.8"/><circle cx="736.4" cy="846.1" r="1.8"/><circle cx="728.4" cy="802.4" r="2.3"/><circle cx="717.3" cy="814.4" r="2.4"/><circle cx="822.8" cy="900.8" r="1.6"/><circle cx="723.1" cy="861.0" r="2.4"/><circle cx="774.7" cy="890.6" r="2.4"/><circle cx="804.9" cy="855.7" r="2.2"/><circle cx="809.5" cy="901.1" r="1.9"/><circle cx="727.7" cy="851.9" r="2.2"/><circle cx="741.7" cy="866.1" r="2.4"/><circle cx="818.2" cy="823.2" r="1.8"/><circle cx="717.2" cy="817.2" r="1.9"/><circle cx="742.0" cy="799.7" r="2.0"/><circle cx="707.1" cy="802.4" r="1.9"/><circle cx="781.8" cy="798.8" r="2.2"/><circle cx="734.0" cy="855.9" r="2.2"/><circle cx="794.6" cy="809.4" r="1.8"/><circle cx="772.7" cy="840.8" r="2.1"/><circle cx="782.5" cy="887.6" r="1.6"/><circle cx="790.0" cy="900.0" r="2.1"/><circle cx="789.6" cy="884.4" r="2.2"/><circle cx="798.9" cy="852.6" r="2.4"/><circle cx="721.7" cy="876.8" r="1.8"/><circle cx="715.0" cy="812.1" r="1.8"/><circle cx="796.4" cy="890.9" r="1.5"/><circle cx="770.9" cy="850.1" r="1.7"/><circle cx="764.2" cy="842.4" r="2.2"/><circle cx="762.0" cy="808.4" r="1.7"/><circle cx="817.0" cy="823.7" r="2.3"/><circle cx="781.3" cy="901.6" r="2.1"/><circle cx="783.6" cy="822.9" r="1.7"/><circle cx="756.9" cy="802.8" r="2.4"/><circle cx="706.6" cy="843.6" r="1.5"/><circle cx="721.9" cy="859.2" r="1.9"/><circle cx="787.2" cy="847.8" r="2.1"/><circle cx="742.3" cy="858.8" r="2.3"/><circle cx="697.8" cy="807.3" r="2.0"/><circle cx="790.6" cy="831.7" r="2.1"/><circle cx="740.1" cy="879.8" r="2.2"/><circle cx="712.0" cy="861.4" r="2.2"/><circle cx="811.9" cy="842.2" r="1.6"/><circle cx="793.9" cy="801.4" r="1.5"/><circle cx="734.6" cy="843.7" r="1.9"/><circle cx="788.6" cy="882.6" r="2.0"/><circle cx="764.9" cy="886.3" r="2.1"/><circle cx="701.6" cy="804.2" r="2.2"/><circle cx="729.2" cy="804.9" r="2.1"/><circle cx="790.7" cy="888.4" r="1.8"/><circle cx="722.0" cy="812.5" r="1.9"/><circle cx="769.7" cy="901.2" r="2.2"/><circle cx="768.3" cy="839.6" r="2.1"/><circle cx="738.6" cy="848.2" r="2.0"/><circle cx="729.7" cy="832.7" r="1.6"/><circle cx="777.8" cy="798.6" r="1.7"/><circle cx="732.3" cy="801.9" r="2.2"/><circle cx="692.5" cy="815.4" r="2.2"/><circle cx="723.0" cy="797.0" r="1.9"/><circle cx="724.7" cy="822.4" r="2.4"/><circle cx="707.6" cy="814.0" r="1.8"/><circle cx="729.2" cy="821.5" r="1.9"/><circle cx="792.6" cy="796.7" r="1.6"/><circle cx="685.2" cy="828.3" r="2.3"/><circle cx="789.9" cy="817.6" r="1.8"/><circle cx="701.5" cy="849.8" r="2.1"/><circle cx="716.6" cy="861.5" r="1.7"/><circle cx="751.4" cy="870.6" r="2.1"/><circle cx="819.5" cy="859.8" r="1.6"/><circle cx="793.1" cy="860.0" r="1.8"/><circle cx="711.4" cy="836.1" r="2.4"/><circle cx="684.1" cy="833.8" r="2.0"/><circle cx="779.8" cy="817.9" r="1.8"/><circle cx="737.8" cy="876.6" r="1.6"/><circle cx="777.1" cy="890.7" r="1.9"/><circle cx="795.1" cy="857.5" r="2.2"/><circle cx="784.0" cy="842.5" r="2.2"/><circle cx="797.8" cy="797.4" r="1.6"/><circle cx="773.6" cy="847.9" r="2.1"/><circle cx="775.2" cy="825.3" r="1.7"/><circle cx="791.1" cy="824.3" r="2.2"/><circle cx="811.3" cy="806.5" r="1.9"/><circle cx="736.5" cy="822.6" r="2.4"/><circle cx="799.8" cy="803.2" r="1.9"/><circle cx="737.4" cy="882.0" r="2.2"/><circle cx="806.1" cy="856.2" r="2.4"/><circle cx="787.1" cy="837.4" r="2.0"/><circle cx="735.2" cy="878.6" r="2.3"/><circle cx="729.4" cy="855.6" r="2.1"/><circle cx="727.0" cy="874.5" r="2.2"/><circle cx="794.6" cy="891.4" r="1.6"/><circle cx="719.3" cy="826.1" r="2.3"/><circle cx="792.8" cy="859.1" r="1.7"/><circle cx="748.9" cy="871.8" r="1.8"/><circle cx="723.2" cy="799.7" r="2.4"/><circle cx="712.1" cy="828.6" r="1.7"/><circle cx="791.9" cy="817.8" r="1.7"/><circle cx="785.2" cy="858.4" r="2.1"/><circle cx="803.3" cy="827.4" r="1.7"/><circle cx="692.3" cy="819.5" r="2.1"/><circle cx="769.1" cy="815.4" r="1.7"/><circle cx="692.8" cy="824.6" r="1.9"/><circle cx="737.3" cy="836.8" r="1.8"/><circle cx="703.6" cy="818.4" r="2.2"/><circle cx="798.5" cy="813.3" r="1.5"/><circle cx="706.5" cy="871.2" r="2.0"/><circle cx="778.8" cy="812.8" r="1.8"/><circle cx="719.0" cy="842.2" r="1.6"/><circle cx="741.2" cy="803.9" r="2.4"/><circle cx="817.5" cy="826.8" r="2.1"/><circle cx="809.5" cy="810.4" r="1.6"/><circle cx="736.1" cy="834.2" r="1.7"/><circle cx="813.9" cy="840.7" r="2.3"/><circle cx="782.3" cy="837.1" r="1.9"/><circle cx="822.4" cy="854.9" r="2.0"/><circle cx="757.6" cy="800.3" r="2.2"/><circle cx="826.9" cy="864.9" r="1.7"/><circle cx="819.0" cy="865.9" r="1.7"/><circle cx="715.8" cy="842.1" r="1.5"/><circle cx="815.3" cy="830.0" r="2.0"/><circle cx="707.7" cy="877.6" r="1.8"/><circle cx="710.0" cy="811.7" r="2.0"/><circle cx="739.6" cy="830.0" r="2.4"/><circle cx="802.2" cy="895.7" r="2.3"/><circle cx="735.7" cy="816.6" r="2.3"/><circle cx="771.2" cy="903.8" r="1.6"/><circle cx="807.5" cy="870.5" r="2.4"/><circle cx="712.2" cy="851.7" r="2.3"/><circle cx="709.2" cy="875.3" r="1.7"/><circle cx="825.1" cy="894.7" r="2.3"/><circle cx="736.5" cy="798.7" r="2.0"/><circle cx="734.6" cy="796.9" r="2.1"/><circle cx="796.7" cy="807.1" r="1.8"/><circle cx="705.0" cy="836.8" r="2.0"/><circle cx="689.2" cy="831.1" r="1.7"/><circle cx="813.6" cy="840.6" r="1.6"/><circle cx="768.9" cy="804.4" r="1.8"/><circle cx="702.5" cy="815.5" r="2.4"/><circle cx="780.7" cy="856.2" r="2.2"/><circle cx="814.9" cy="830.7" r="2.2"/><circle cx="710.1" cy="879.0" r="2.2"/><circle cx="814.3" cy="889.7" r="2.1"/><circle cx="731.2" cy="804.1" r="1.7"/><circle cx="680.3" cy="830.9" r="2.1"/><circle cx="802.0" cy="855.1" r="2.1"/><circle cx="739.5" cy="828.9" r="1.6"/><circle cx="786.3" cy="855.6" r="1.8"/><circle cx="773.7" cy="817.4" r="2.0"/><circle cx="783.8" cy="845.2" r="2.4"/><circle cx="806.5" cy="889.3" r="2.3"/><circle cx="710.0" cy="822.7" r="2.1"/><circle cx="745.8" cy="865.9" r="1.8"/><circle cx="728.1" cy="856.9" r="1.9"/><circle cx="733.1" cy="827.8" r="1.8"/><circle cx="726.5" cy="819.5" r="2.0"/><circle cx="692.0" cy="818.5" r="2.1"/><circle cx="733.4" cy="879.6" r="1.8"/><circle cx="726.9" cy="836.9" r="2.3"/><circle cx="812.6" cy="856.0" r="2.0"/><circle cx="704.0" cy="803.2" r="1.9"/><circle cx="714.1" cy="870.0" r="2.0"/><circle cx="798.5" cy="892.7" r="1.7"/><circle cx="718.2" cy="860.7" r="2.4"/><circle cx="746.7" cy="883.2" r="2.2"/><circle cx="814.1" cy="904.1" r="2.1"/><circle cx="770.4" cy="833.8" r="1.7"/><circle cx="797.3" cy="896.2" r="1.9"/><circle cx="754.2" cy="803.3" r="1.7"/><circle cx="827.5" cy="887.7" r="1.8"/><circle cx="808.6" cy="885.7" r="1.6"/><circle cx="760.7" cy="887.9" r="1.5"/><circle cx="707.8" cy="801.3" r="2.3"/><circle cx="720.8" cy="853.0" r="2.4"/><circle cx="805.6" cy="856.5" r="2.0"/><circle cx="747.3" cy="868.2" r="2.3"/><circle cx="786.7" cy="887.0" r="2.0"/><circle cx="743.6" cy="798.6" r="2.1"/><circle cx="815.4" cy="841.4" r="2.0"/><circle cx="770.6" cy="847.9" r="1.6"/><circle cx="728.6" cy="866.2" r="2.0"/><circle cx="716.3" cy="841.1" r="1.9"/><circle cx="809.8" cy="860.1" r="1.8"/><circle cx="740.1" cy="795.9" r="1.5"/><circle cx="716.8" cy="815.7" r="1.9"/><circle cx="790.0" cy="829.1" r="2.0"/><circle cx="708.4" cy="840.8" r="2.1"/><circle cx="727.5" cy="837.3" r="1.8"/><circle cx="809.3" cy="853.1" r="1.9"/><circle cx="728.5" cy="877.2" r="1.8"/><circle cx="825.1" cy="890.7" r="2.2"/><circle cx="830.7" cy="855.3" r="1.7"/><circle cx="731.1" cy="811.4" r="1.8"/><circle cx="716.2" cy="814.3" r="2.3"/></g><ellipse cx="735" cy="796" rx="45" ry="5" fill="#F07030" opacity="0.35" filter="url(#g3)"/><ellipse cx="700" cy="812" rx="12" ry="9" fill="#000" opacity="0.75" filter="url(#g3)"/><ellipse cx="738" cy="820" rx="10" ry="9" fill="#000" opacity="0.7" filter="url(#g3)"/><ellipse cx="780" cy="817" rx="10" ry="8" fill="#000" opacity="0.7" filter="url(#g3)"/><ellipse cx="825" cy="880" rx="14" ry="20" fill="#000" opacity="0.55" filter="url(#g5)"/><ellipse cx="700" cy="855" rx="8" ry="8" fill="#000" opacity="0.5" filter="url(#g3)"/><ellipse cx="790" cy="862" rx="8" ry="8" fill="#000" opacity="0.5" filter="url(#g3)"/><ellipse cx="765" cy="900" rx="8" ry="6" fill="#000" opacity="0.6" filter="url(#g3)"/><ellipse cx="830" cy="905" rx="10" ry="6" fill="#000" opacity="0.6" filter="url(#g3)"/><path d="M660,760 855,760 855,780 848,780 807.6,780 767,774 737,778 706,782 666,786 660,786Z" fill="#000" filter="url(#g1_5)"/></g></g>
<g font-family="Liberation Sans, Arial, sans-serif" font-weight="bold" font-size="16.6" fill="#fff"><text x="150.3" y="777">Sham 4h</text><text x="342.8" y="777">SAH 4h</text><text x="482" y="778.5">Sham 4h</text><text x="669" y="778.5">SAH 4h</text></g>
<path d="M95,776 109,784 99,791.6ZM169,807 182,800 180,815ZM264.1,794.3 276.8,803 266.1,809.9ZM359.5,843 364.8,829.5 369.5,843ZM559.9,780.2 551.8,792.3 563.9,794.3ZM615.5,769 628.6,775.1 614.5,783.2ZM730.7,765.3 742.7,772 729.3,780ZM772,768 785.3,774.7 771.5,783.5ZM821.3,770.7 834.7,775.5 820,784Z" fill="#fff"/>
<path d="M802.7,797.3 820,793.3 818.7,804ZM818.7,838.7 833.3,848 822.7,853.3Z" fill="#FFE21A"/>
<path d="M369.6 900.7H386.7M822.7 903H840" stroke="#fff" stroke-width="2"/>
</svg>
</body></html>
